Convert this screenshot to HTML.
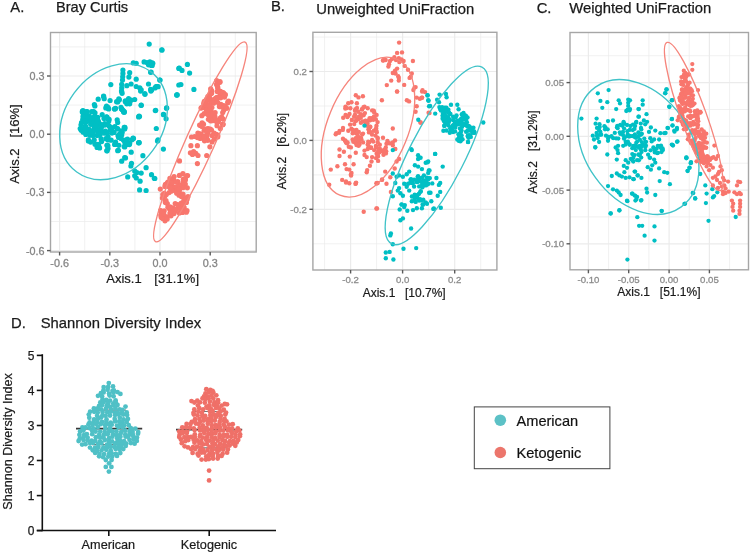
<!DOCTYPE html>
<html><head><meta charset="utf-8"><style>
html,body{margin:0;padding:0;background:#fff;width:750px;height:553px;overflow:hidden}
svg{display:block;font-family:"Liberation Sans",sans-serif;filter:blur(0.5px)}
</style></head><body>
<svg width="750" height="553" viewBox="0 0 750 553">
<line x1="84.7" y1="32.5" x2="84.7" y2="252" stroke="#ebebeb" stroke-width="0.7"/>
<line x1="134.9" y1="32.5" x2="134.9" y2="252" stroke="#ebebeb" stroke-width="0.7"/>
<line x1="185.1" y1="32.5" x2="185.1" y2="252" stroke="#ebebeb" stroke-width="0.7"/>
<line x1="235.3" y1="32.5" x2="235.3" y2="252" stroke="#ebebeb" stroke-width="0.7"/>
<line x1="50.5" y1="46.9" x2="256.2" y2="46.9" stroke="#ebebeb" stroke-width="0.7"/>
<line x1="50.5" y1="105.1" x2="256.2" y2="105.1" stroke="#ebebeb" stroke-width="0.7"/>
<line x1="50.5" y1="163.3" x2="256.2" y2="163.3" stroke="#ebebeb" stroke-width="0.7"/>
<line x1="50.5" y1="221.5" x2="256.2" y2="221.5" stroke="#ebebeb" stroke-width="0.7"/>
<line x1="59.6" y1="32.5" x2="59.6" y2="252" stroke="#ebebeb" stroke-width="1.2"/>
<line x1="109.8" y1="32.5" x2="109.8" y2="252" stroke="#ebebeb" stroke-width="1.2"/>
<line x1="160.0" y1="32.5" x2="160.0" y2="252" stroke="#ebebeb" stroke-width="1.2"/>
<line x1="210.2" y1="32.5" x2="210.2" y2="252" stroke="#ebebeb" stroke-width="1.2"/>
<line x1="50.5" y1="76.0" x2="256.2" y2="76.0" stroke="#ebebeb" stroke-width="1.2"/>
<line x1="50.5" y1="134.2" x2="256.2" y2="134.2" stroke="#ebebeb" stroke-width="1.2"/>
<line x1="50.5" y1="192.4" x2="256.2" y2="192.4" stroke="#ebebeb" stroke-width="1.2"/>
<line x1="50.5" y1="250.6" x2="256.2" y2="250.6" stroke="#ebebeb" stroke-width="1.2"/>
<line x1="324.6" y1="32.3" x2="324.6" y2="270" stroke="#ebebeb" stroke-width="0.7"/>
<line x1="376.6" y1="32.3" x2="376.6" y2="270" stroke="#ebebeb" stroke-width="0.7"/>
<line x1="428.7" y1="32.3" x2="428.7" y2="270" stroke="#ebebeb" stroke-width="0.7"/>
<line x1="480.7" y1="32.3" x2="480.7" y2="270" stroke="#ebebeb" stroke-width="0.7"/>
<line x1="312.9" y1="37.1" x2="496.9" y2="37.1" stroke="#ebebeb" stroke-width="0.7"/>
<line x1="312.9" y1="106.0" x2="496.9" y2="106.0" stroke="#ebebeb" stroke-width="0.7"/>
<line x1="312.9" y1="174.9" x2="496.9" y2="174.9" stroke="#ebebeb" stroke-width="0.7"/>
<line x1="312.9" y1="243.8" x2="496.9" y2="243.8" stroke="#ebebeb" stroke-width="0.7"/>
<line x1="350.6" y1="32.3" x2="350.6" y2="270" stroke="#ebebeb" stroke-width="1.2"/>
<line x1="402.6" y1="32.3" x2="402.6" y2="270" stroke="#ebebeb" stroke-width="1.2"/>
<line x1="454.7" y1="32.3" x2="454.7" y2="270" stroke="#ebebeb" stroke-width="1.2"/>
<line x1="312.9" y1="71.5" x2="496.9" y2="71.5" stroke="#ebebeb" stroke-width="1.2"/>
<line x1="312.9" y1="140.4" x2="496.9" y2="140.4" stroke="#ebebeb" stroke-width="1.2"/>
<line x1="312.9" y1="209.3" x2="496.9" y2="209.3" stroke="#ebebeb" stroke-width="1.2"/>
<line x1="608.6" y1="32.5" x2="608.6" y2="269.8" stroke="#ebebeb" stroke-width="0.7"/>
<line x1="648.9" y1="32.5" x2="648.9" y2="269.8" stroke="#ebebeb" stroke-width="0.7"/>
<line x1="689.2" y1="32.5" x2="689.2" y2="269.8" stroke="#ebebeb" stroke-width="0.7"/>
<line x1="729.6" y1="32.5" x2="729.6" y2="269.8" stroke="#ebebeb" stroke-width="0.7"/>
<line x1="570" y1="55.7" x2="748.5" y2="55.7" stroke="#ebebeb" stroke-width="0.7"/>
<line x1="570" y1="109.5" x2="748.5" y2="109.5" stroke="#ebebeb" stroke-width="0.7"/>
<line x1="570" y1="163.2" x2="748.5" y2="163.2" stroke="#ebebeb" stroke-width="0.7"/>
<line x1="570" y1="216.9" x2="748.5" y2="216.9" stroke="#ebebeb" stroke-width="0.7"/>
<line x1="588.4" y1="32.5" x2="588.4" y2="269.8" stroke="#ebebeb" stroke-width="1.2"/>
<line x1="628.7" y1="32.5" x2="628.7" y2="269.8" stroke="#ebebeb" stroke-width="1.2"/>
<line x1="669.1" y1="32.5" x2="669.1" y2="269.8" stroke="#ebebeb" stroke-width="1.2"/>
<line x1="709.4" y1="32.5" x2="709.4" y2="269.8" stroke="#ebebeb" stroke-width="1.2"/>
<line x1="570" y1="82.6" x2="748.5" y2="82.6" stroke="#ebebeb" stroke-width="1.2"/>
<line x1="570" y1="136.3" x2="748.5" y2="136.3" stroke="#ebebeb" stroke-width="1.2"/>
<line x1="570" y1="190.1" x2="748.5" y2="190.1" stroke="#ebebeb" stroke-width="1.2"/>
<line x1="570" y1="243.8" x2="748.5" y2="243.8" stroke="#ebebeb" stroke-width="1.2"/>
<line x1="76" y1="428.6" x2="142.2" y2="428.6" stroke="#383838" stroke-width="1.7"/>
<line x1="176" y1="429.6" x2="242.2" y2="429.6" stroke="#383838" stroke-width="1.7"/>
<line x1="92" y1="410.2" x2="126" y2="410.2" stroke="#555" stroke-width="1.2" opacity="0.8"/>
<line x1="92" y1="444.6" x2="126" y2="444.6" stroke="#555" stroke-width="1.2" opacity="0.8"/>
<line x1="192" y1="411.5" x2="227" y2="411.5" stroke="#555" stroke-width="1.2" opacity="0.8"/>
<line x1="192" y1="447.8" x2="227" y2="447.8" stroke="#555" stroke-width="1.2" opacity="0.8"/>
<circle cx="149.2" cy="44.1" r="2.6" fill="#00bfc4"/>
<circle cx="161.9" cy="49.9" r="2.6" fill="#00bfc4"/>
<circle cx="133.3" cy="62.9" r="2.6" fill="#00bfc4"/>
<circle cx="136.2" cy="63.3" r="2.6" fill="#00bfc4"/>
<circle cx="144.1" cy="61.9" r="2.6" fill="#00bfc4"/>
<circle cx="147.0" cy="62.6" r="2.6" fill="#00bfc4"/>
<circle cx="149.9" cy="61.9" r="2.6" fill="#00bfc4"/>
<circle cx="152.8" cy="63.3" r="2.6" fill="#00bfc4"/>
<circle cx="151.4" cy="65.5" r="2.6" fill="#00bfc4"/>
<circle cx="148.5" cy="64.8" r="2.6" fill="#00bfc4"/>
<circle cx="150.6" cy="72.3" r="2.6" fill="#00bfc4"/>
<circle cx="160.0" cy="80.0" r="2.6" fill="#00bfc4"/>
<circle cx="122.9" cy="70.1" r="2.6" fill="#00bfc4"/>
<circle cx="122.9" cy="73.4" r="2.6" fill="#00bfc4"/>
<circle cx="122.7" cy="76.8" r="2.6" fill="#00bfc4"/>
<circle cx="122.5" cy="80.0" r="2.6" fill="#00bfc4"/>
<circle cx="121.7" cy="84.3" r="2.6" fill="#00bfc4"/>
<circle cx="121.7" cy="87.9" r="2.6" fill="#00bfc4"/>
<circle cx="121.7" cy="91.5" r="2.6" fill="#00bfc4"/>
<circle cx="129.7" cy="72.7" r="2.6" fill="#00bfc4"/>
<circle cx="128.9" cy="77.1" r="2.6" fill="#00bfc4"/>
<circle cx="136.2" cy="79.2" r="2.6" fill="#00bfc4"/>
<circle cx="110.8" cy="84.6" r="2.6" fill="#00bfc4"/>
<circle cx="126.8" cy="85.7" r="2.6" fill="#00bfc4"/>
<circle cx="131.1" cy="84.0" r="2.6" fill="#00bfc4"/>
<circle cx="136.2" cy="86.5" r="2.6" fill="#00bfc4"/>
<circle cx="139.8" cy="87.9" r="2.6" fill="#00bfc4"/>
<circle cx="141.2" cy="89.8" r="2.6" fill="#00bfc4"/>
<circle cx="148.5" cy="84.0" r="2.6" fill="#00bfc4"/>
<circle cx="150.6" cy="89.4" r="2.6" fill="#00bfc4"/>
<circle cx="155.0" cy="87.9" r="2.6" fill="#00bfc4"/>
<circle cx="157.1" cy="86.5" r="2.6" fill="#00bfc4"/>
<circle cx="144.8" cy="93.7" r="2.6" fill="#00bfc4"/>
<circle cx="176.7" cy="95.1" r="2.6" fill="#00bfc4"/>
<circle cx="178.8" cy="68.4" r="2.6" fill="#00bfc4"/>
<circle cx="178.8" cy="85.0" r="2.6" fill="#00bfc4"/>
<circle cx="103.6" cy="96.6" r="2.6" fill="#00bfc4"/>
<circle cx="110.1" cy="100.5" r="2.6" fill="#00bfc4"/>
<circle cx="118.8" cy="98.8" r="2.6" fill="#00bfc4"/>
<circle cx="116.6" cy="101.7" r="2.6" fill="#00bfc4"/>
<circle cx="125.3" cy="101.7" r="2.6" fill="#00bfc4"/>
<circle cx="128.2" cy="100.2" r="2.6" fill="#00bfc4"/>
<circle cx="131.1" cy="100.2" r="2.6" fill="#00bfc4"/>
<circle cx="134.7" cy="99.5" r="2.6" fill="#00bfc4"/>
<circle cx="126.8" cy="103.8" r="2.6" fill="#00bfc4"/>
<circle cx="129.7" cy="103.8" r="2.6" fill="#00bfc4"/>
<circle cx="141.2" cy="105.3" r="2.6" fill="#00bfc4"/>
<circle cx="155.7" cy="110.3" r="2.6" fill="#00bfc4"/>
<circle cx="166.5" cy="108.2" r="2.6" fill="#00bfc4"/>
<circle cx="106.5" cy="106.0" r="2.6" fill="#00bfc4"/>
<circle cx="108.7" cy="108.9" r="2.6" fill="#00bfc4"/>
<circle cx="114.5" cy="108.9" r="2.6" fill="#00bfc4"/>
<circle cx="121.7" cy="108.9" r="2.6" fill="#00bfc4"/>
<circle cx="123.9" cy="111.8" r="2.6" fill="#00bfc4"/>
<circle cx="139.1" cy="116.1" r="2.6" fill="#00bfc4"/>
<circle cx="163.7" cy="114.7" r="2.6" fill="#00bfc4"/>
<circle cx="102.2" cy="114.7" r="2.6" fill="#00bfc4"/>
<circle cx="106.5" cy="116.8" r="2.6" fill="#00bfc4"/>
<circle cx="98.2" cy="99.2" r="2.6" fill="#00bfc4"/>
<circle cx="103.6" cy="96.0" r="2.6" fill="#00bfc4"/>
<circle cx="104.2" cy="98.7" r="2.6" fill="#00bfc4"/>
<circle cx="94.4" cy="104.6" r="2.6" fill="#00bfc4"/>
<circle cx="108.0" cy="107.4" r="2.6" fill="#00bfc4"/>
<circle cx="105.8" cy="107.9" r="2.6" fill="#00bfc4"/>
<circle cx="115.6" cy="108.4" r="2.6" fill="#00bfc4"/>
<circle cx="117.7" cy="101.9" r="2.6" fill="#00bfc4"/>
<circle cx="119.4" cy="99.8" r="2.6" fill="#00bfc4"/>
<circle cx="121.0" cy="107.4" r="2.6" fill="#00bfc4"/>
<circle cx="123.2" cy="110.6" r="2.6" fill="#00bfc4"/>
<circle cx="124.2" cy="111.7" r="2.6" fill="#00bfc4"/>
<circle cx="125.3" cy="100.8" r="2.6" fill="#00bfc4"/>
<circle cx="127.5" cy="103.0" r="2.6" fill="#00bfc4"/>
<circle cx="128.6" cy="98.7" r="2.6" fill="#00bfc4"/>
<circle cx="121.5" cy="91.1" r="2.6" fill="#00bfc4"/>
<circle cx="122.1" cy="93.3" r="2.6" fill="#00bfc4"/>
<circle cx="83.0" cy="110.6" r="2.6" fill="#00bfc4"/>
<circle cx="86.3" cy="111.7" r="2.6" fill="#00bfc4"/>
<circle cx="91.7" cy="111.7" r="2.6" fill="#00bfc4"/>
<circle cx="95.0" cy="112.8" r="2.6" fill="#00bfc4"/>
<circle cx="106.9" cy="117.1" r="2.6" fill="#00bfc4"/>
<circle cx="109.1" cy="119.3" r="2.6" fill="#00bfc4"/>
<circle cx="117.2" cy="119.8" r="2.6" fill="#00bfc4"/>
<circle cx="117.7" cy="122.5" r="2.6" fill="#00bfc4"/>
<circle cx="124.2" cy="127.4" r="2.6" fill="#00bfc4"/>
<circle cx="88.4" cy="139.9" r="2.6" fill="#00bfc4"/>
<circle cx="90.6" cy="142.1" r="2.6" fill="#00bfc4"/>
<circle cx="95.0" cy="144.2" r="2.6" fill="#00bfc4"/>
<circle cx="97.1" cy="147.5" r="2.6" fill="#00bfc4"/>
<circle cx="106.9" cy="145.3" r="2.6" fill="#00bfc4"/>
<circle cx="108.0" cy="148.6" r="2.6" fill="#00bfc4"/>
<circle cx="115.6" cy="142.1" r="2.6" fill="#00bfc4"/>
<circle cx="118.8" cy="145.3" r="2.6" fill="#00bfc4"/>
<circle cx="124.2" cy="146.4" r="2.6" fill="#00bfc4"/>
<circle cx="126.4" cy="139.9" r="2.6" fill="#00bfc4"/>
<circle cx="140.6" cy="91.1" r="2.6" fill="#00bfc4"/>
<circle cx="145.0" cy="94.3" r="2.6" fill="#00bfc4"/>
<circle cx="150.9" cy="91.1" r="2.6" fill="#00bfc4"/>
<circle cx="141.2" cy="105.2" r="2.6" fill="#00bfc4"/>
<circle cx="122.2" cy="109.5" r="2.6" fill="#00bfc4"/>
<circle cx="124.3" cy="112.2" r="2.6" fill="#00bfc4"/>
<circle cx="139.5" cy="116.6" r="2.6" fill="#00bfc4"/>
<circle cx="155.3" cy="110.6" r="2.6" fill="#00bfc4"/>
<circle cx="166.7" cy="107.9" r="2.6" fill="#00bfc4"/>
<circle cx="163.4" cy="114.4" r="2.6" fill="#00bfc4"/>
<circle cx="166.1" cy="118.8" r="2.6" fill="#00bfc4"/>
<circle cx="177.0" cy="94.9" r="2.6" fill="#00bfc4"/>
<circle cx="124.9" cy="127.4" r="2.6" fill="#00bfc4"/>
<circle cx="156.3" cy="128.5" r="2.6" fill="#00bfc4"/>
<circle cx="139.0" cy="142.6" r="2.6" fill="#00bfc4"/>
<circle cx="158.0" cy="139.9" r="2.6" fill="#00bfc4"/>
<circle cx="163.4" cy="149.1" r="2.6" fill="#00bfc4"/>
<circle cx="101.6" cy="141.6" r="2.6" fill="#00bfc4"/>
<circle cx="107.6" cy="145.4" r="2.6" fill="#00bfc4"/>
<circle cx="107.1" cy="150.8" r="2.6" fill="#00bfc4"/>
<circle cx="118.4" cy="150.3" r="2.6" fill="#00bfc4"/>
<circle cx="139.1" cy="142.7" r="2.6" fill="#00bfc4"/>
<circle cx="142.9" cy="155.7" r="2.6" fill="#00bfc4"/>
<circle cx="121.7" cy="161.2" r="2.6" fill="#00bfc4"/>
<circle cx="125.5" cy="157.9" r="2.6" fill="#00bfc4"/>
<circle cx="131.5" cy="163.3" r="2.6" fill="#00bfc4"/>
<circle cx="130.9" cy="166.0" r="2.6" fill="#00bfc4"/>
<circle cx="146.1" cy="167.7" r="2.6" fill="#00bfc4"/>
<circle cx="134.7" cy="170.9" r="2.6" fill="#00bfc4"/>
<circle cx="136.9" cy="172.5" r="2.6" fill="#00bfc4"/>
<circle cx="141.2" cy="173.1" r="2.6" fill="#00bfc4"/>
<circle cx="134.7" cy="175.8" r="2.6" fill="#00bfc4"/>
<circle cx="136.3" cy="178.0" r="2.6" fill="#00bfc4"/>
<circle cx="140.1" cy="181.2" r="2.6" fill="#00bfc4"/>
<circle cx="127.7" cy="176.9" r="2.6" fill="#00bfc4"/>
<circle cx="151.5" cy="174.7" r="2.6" fill="#00bfc4"/>
<circle cx="154.8" cy="178.5" r="2.6" fill="#00bfc4"/>
<circle cx="139.6" cy="189.9" r="2.6" fill="#00bfc4"/>
<circle cx="146.1" cy="190.5" r="2.6" fill="#00bfc4"/>
<circle cx="157.5" cy="141.1" r="2.6" fill="#00bfc4"/>
<circle cx="161.9" cy="50.0" r="2.6" fill="#00bfc4"/>
<circle cx="152.2" cy="62.8" r="2.6" fill="#00bfc4"/>
<circle cx="152.2" cy="65.5" r="2.6" fill="#00bfc4"/>
<circle cx="151.1" cy="72.0" r="2.6" fill="#00bfc4"/>
<circle cx="159.8" cy="80.1" r="2.6" fill="#00bfc4"/>
<circle cx="179.3" cy="68.2" r="2.6" fill="#00bfc4"/>
<circle cx="182.0" cy="70.4" r="2.6" fill="#00bfc4"/>
<circle cx="187.4" cy="64.4" r="2.6" fill="#00bfc4"/>
<circle cx="189.6" cy="73.1" r="2.6" fill="#00bfc4"/>
<circle cx="180.9" cy="84.5" r="2.6" fill="#00bfc4"/>
<circle cx="193.9" cy="89.4" r="2.6" fill="#00bfc4"/>
<circle cx="177.1" cy="94.8" r="2.6" fill="#00bfc4"/>
<circle cx="156.0" cy="86.7" r="2.6" fill="#00bfc4"/>
<circle cx="158.1" cy="86.7" r="2.6" fill="#00bfc4"/>
<circle cx="151.6" cy="89.9" r="2.6" fill="#00bfc4"/>
<circle cx="154.3" cy="178.3" r="2.6" fill="#00bfc4"/>
<circle cx="97.7" cy="117.3" r="2.6" fill="#00bfc4"/>
<circle cx="109.3" cy="126.2" r="2.6" fill="#00bfc4"/>
<circle cx="83.2" cy="132.2" r="2.6" fill="#00bfc4"/>
<circle cx="82.0" cy="129.1" r="2.6" fill="#00bfc4"/>
<circle cx="83.8" cy="114.8" r="2.6" fill="#00bfc4"/>
<circle cx="86.8" cy="120.3" r="2.6" fill="#00bfc4"/>
<circle cx="111.5" cy="127.5" r="2.6" fill="#00bfc4"/>
<circle cx="87.9" cy="115.9" r="2.6" fill="#00bfc4"/>
<circle cx="96.8" cy="145.0" r="2.6" fill="#00bfc4"/>
<circle cx="89.9" cy="135.3" r="2.6" fill="#00bfc4"/>
<circle cx="114.9" cy="126.5" r="2.6" fill="#00bfc4"/>
<circle cx="83.3" cy="119.6" r="2.6" fill="#00bfc4"/>
<circle cx="117.1" cy="128.8" r="2.6" fill="#00bfc4"/>
<circle cx="97.2" cy="135.4" r="2.6" fill="#00bfc4"/>
<circle cx="104.7" cy="123.5" r="2.6" fill="#00bfc4"/>
<circle cx="123.4" cy="140.1" r="2.6" fill="#00bfc4"/>
<circle cx="93.3" cy="135.0" r="2.6" fill="#00bfc4"/>
<circle cx="88.3" cy="131.4" r="2.6" fill="#00bfc4"/>
<circle cx="121.7" cy="134.9" r="2.6" fill="#00bfc4"/>
<circle cx="118.0" cy="135.8" r="2.6" fill="#00bfc4"/>
<circle cx="111.7" cy="130.0" r="2.6" fill="#00bfc4"/>
<circle cx="105.9" cy="138.7" r="2.6" fill="#00bfc4"/>
<circle cx="101.1" cy="138.9" r="2.6" fill="#00bfc4"/>
<circle cx="81.2" cy="130.3" r="2.6" fill="#00bfc4"/>
<circle cx="89.2" cy="115.9" r="2.6" fill="#00bfc4"/>
<circle cx="87.1" cy="121.3" r="2.6" fill="#00bfc4"/>
<circle cx="84.4" cy="129.7" r="2.6" fill="#00bfc4"/>
<circle cx="124.7" cy="147.0" r="2.6" fill="#00bfc4"/>
<circle cx="95.2" cy="128.3" r="2.6" fill="#00bfc4"/>
<circle cx="99.6" cy="147.9" r="2.6" fill="#00bfc4"/>
<circle cx="89.6" cy="120.7" r="2.6" fill="#00bfc4"/>
<circle cx="92.7" cy="131.2" r="2.6" fill="#00bfc4"/>
<circle cx="80.2" cy="128.5" r="2.6" fill="#00bfc4"/>
<circle cx="100.2" cy="134.6" r="2.6" fill="#00bfc4"/>
<circle cx="132.0" cy="139.8" r="2.6" fill="#00bfc4"/>
<circle cx="108.1" cy="136.8" r="2.6" fill="#00bfc4"/>
<circle cx="129.1" cy="143.5" r="2.6" fill="#00bfc4"/>
<circle cx="127.7" cy="144.3" r="2.6" fill="#00bfc4"/>
<circle cx="101.4" cy="127.6" r="2.6" fill="#00bfc4"/>
<circle cx="83.4" cy="113.8" r="2.6" fill="#00bfc4"/>
<circle cx="91.4" cy="117.8" r="2.6" fill="#00bfc4"/>
<circle cx="85.5" cy="126.2" r="2.6" fill="#00bfc4"/>
<circle cx="93.8" cy="125.5" r="2.6" fill="#00bfc4"/>
<circle cx="105.4" cy="131.2" r="2.6" fill="#00bfc4"/>
<circle cx="84.7" cy="115.3" r="2.6" fill="#00bfc4"/>
<circle cx="98.7" cy="122.0" r="2.6" fill="#00bfc4"/>
<circle cx="127.1" cy="140.0" r="2.6" fill="#00bfc4"/>
<circle cx="94.3" cy="126.3" r="2.6" fill="#00bfc4"/>
<circle cx="98.0" cy="120.3" r="2.6" fill="#00bfc4"/>
<circle cx="126.6" cy="144.6" r="2.6" fill="#00bfc4"/>
<circle cx="124.7" cy="141.9" r="2.6" fill="#00bfc4"/>
<circle cx="92.4" cy="132.6" r="2.6" fill="#00bfc4"/>
<circle cx="81.5" cy="122.7" r="2.6" fill="#00bfc4"/>
<circle cx="94.2" cy="139.9" r="2.6" fill="#00bfc4"/>
<circle cx="131.2" cy="152.2" r="2.6" fill="#00bfc4"/>
<circle cx="92.0" cy="120.5" r="2.6" fill="#00bfc4"/>
<circle cx="90.7" cy="119.5" r="2.6" fill="#00bfc4"/>
<circle cx="115.7" cy="144.3" r="2.6" fill="#00bfc4"/>
<circle cx="129.7" cy="143.6" r="2.6" fill="#00bfc4"/>
<circle cx="121.0" cy="130.9" r="2.6" fill="#00bfc4"/>
<circle cx="98.2" cy="144.4" r="2.6" fill="#00bfc4"/>
<circle cx="86.9" cy="117.3" r="2.6" fill="#00bfc4"/>
<circle cx="129.4" cy="144.6" r="2.6" fill="#00bfc4"/>
<circle cx="133.5" cy="138.4" r="2.6" fill="#00bfc4"/>
<circle cx="99.1" cy="133.9" r="2.6" fill="#00bfc4"/>
<circle cx="87.2" cy="111.6" r="2.6" fill="#00bfc4"/>
<circle cx="133.0" cy="138.1" r="2.6" fill="#00bfc4"/>
<circle cx="93.8" cy="123.2" r="2.6" fill="#00bfc4"/>
<circle cx="93.1" cy="135.5" r="2.6" fill="#00bfc4"/>
<circle cx="94.2" cy="128.5" r="2.6" fill="#00bfc4"/>
<circle cx="99.3" cy="130.1" r="2.6" fill="#00bfc4"/>
<circle cx="107.4" cy="133.2" r="2.6" fill="#00bfc4"/>
<circle cx="104.0" cy="118.6" r="2.6" fill="#00bfc4"/>
<circle cx="89.4" cy="130.7" r="2.6" fill="#00bfc4"/>
<circle cx="119.6" cy="134.2" r="2.6" fill="#00bfc4"/>
<circle cx="97.8" cy="132.6" r="2.6" fill="#00bfc4"/>
<circle cx="85.8" cy="134.4" r="2.6" fill="#00bfc4"/>
<circle cx="93.6" cy="122.5" r="2.6" fill="#00bfc4"/>
<circle cx="122.2" cy="132.2" r="2.6" fill="#00bfc4"/>
<circle cx="113.4" cy="132.1" r="2.6" fill="#00bfc4"/>
<circle cx="108.0" cy="139.9" r="2.6" fill="#00bfc4"/>
<circle cx="104.7" cy="133.2" r="2.6" fill="#00bfc4"/>
<circle cx="86.6" cy="129.4" r="2.6" fill="#00bfc4"/>
<circle cx="84.0" cy="121.0" r="2.6" fill="#00bfc4"/>
<circle cx="88.4" cy="140.9" r="2.6" fill="#00bfc4"/>
<circle cx="101.7" cy="131.3" r="2.6" fill="#00bfc4"/>
<circle cx="88.8" cy="129.0" r="2.6" fill="#00bfc4"/>
<circle cx="108.2" cy="125.1" r="2.6" fill="#00bfc4"/>
<circle cx="90.7" cy="124.3" r="2.6" fill="#00bfc4"/>
<circle cx="110.3" cy="129.4" r="2.6" fill="#00bfc4"/>
<circle cx="81.0" cy="124.8" r="2.6" fill="#00bfc4"/>
<circle cx="114.1" cy="132.4" r="2.6" fill="#00bfc4"/>
<circle cx="85.7" cy="122.1" r="2.6" fill="#00bfc4"/>
<circle cx="94.8" cy="116.4" r="2.6" fill="#00bfc4"/>
<circle cx="111.2" cy="140.2" r="2.6" fill="#00bfc4"/>
<circle cx="84.9" cy="113.4" r="2.6" fill="#00bfc4"/>
<circle cx="117.6" cy="128.7" r="2.6" fill="#00bfc4"/>
<circle cx="114.6" cy="144.4" r="2.6" fill="#00bfc4"/>
<circle cx="104.8" cy="125.1" r="2.6" fill="#00bfc4"/>
<circle cx="94.6" cy="116.4" r="2.6" fill="#00bfc4"/>
<circle cx="108.8" cy="120.9" r="2.6" fill="#00bfc4"/>
<circle cx="86.0" cy="117.7" r="2.6" fill="#00bfc4"/>
<circle cx="82.8" cy="119.4" r="2.6" fill="#00bfc4"/>
<circle cx="97.0" cy="123.7" r="2.6" fill="#00bfc4"/>
<circle cx="107.3" cy="118.4" r="2.6" fill="#00bfc4"/>
<circle cx="93.7" cy="111.6" r="2.6" fill="#00bfc4"/>
<circle cx="120.0" cy="134.0" r="2.6" fill="#00bfc4"/>
<circle cx="90.3" cy="130.8" r="2.6" fill="#00bfc4"/>
<circle cx="124.7" cy="129.0" r="2.6" fill="#00bfc4"/>
<circle cx="101.5" cy="132.1" r="2.6" fill="#00bfc4"/>
<circle cx="98.7" cy="145.7" r="2.6" fill="#00bfc4"/>
<circle cx="118.6" cy="137.5" r="2.6" fill="#00bfc4"/>
<circle cx="102.1" cy="125.5" r="2.6" fill="#00bfc4"/>
<circle cx="83.0" cy="116.4" r="2.6" fill="#00bfc4"/>
<circle cx="94.0" cy="117.8" r="2.6" fill="#00bfc4"/>
<circle cx="127.5" cy="139.0" r="2.6" fill="#00bfc4"/>
<circle cx="95.4" cy="121.1" r="2.6" fill="#00bfc4"/>
<circle cx="96.0" cy="130.2" r="2.6" fill="#00bfc4"/>
<circle cx="88.6" cy="129.6" r="2.6" fill="#00bfc4"/>
<circle cx="96.9" cy="125.9" r="2.6" fill="#00bfc4"/>
<circle cx="105.9" cy="132.0" r="2.6" fill="#00bfc4"/>
<circle cx="91.0" cy="132.0" r="2.6" fill="#00bfc4"/>
<circle cx="84.9" cy="127.7" r="2.6" fill="#00bfc4"/>
<circle cx="82.3" cy="111.9" r="2.6" fill="#00bfc4"/>
<circle cx="96.6" cy="120.7" r="2.6" fill="#00bfc4"/>
<circle cx="112.0" cy="133.1" r="2.6" fill="#00bfc4"/>
<circle cx="121.0" cy="138.4" r="2.6" fill="#00bfc4"/>
<circle cx="101.3" cy="124.6" r="2.6" fill="#00bfc4"/>
<circle cx="82.5" cy="111.0" r="2.6" fill="#00bfc4"/>
<circle cx="94.9" cy="106.0" r="2.6" fill="#00bfc4"/>
<circle cx="107.8" cy="108.0" r="2.6" fill="#00bfc4"/>
<circle cx="114.8" cy="109.0" r="2.6" fill="#00bfc4"/>
<circle cx="121.7" cy="109.0" r="2.6" fill="#00bfc4"/>
<circle cx="123.7" cy="112.0" r="2.6" fill="#00bfc4"/>
<circle cx="124.7" cy="127.9" r="2.6" fill="#00bfc4"/>
<circle cx="138.6" cy="116.9" r="2.6" fill="#00bfc4"/>
<circle cx="107.8" cy="145.8" r="2.6" fill="#00bfc4"/>
<circle cx="106.8" cy="150.7" r="2.6" fill="#00bfc4"/>
<circle cx="117.7" cy="150.7" r="2.6" fill="#00bfc4"/>
<circle cx="124.7" cy="157.7" r="2.6" fill="#00bfc4"/>
<circle cx="138.6" cy="142.8" r="2.6" fill="#00bfc4"/>
<circle cx="220.0" cy="118.3" r="2.6" fill="#f8766d"/>
<circle cx="220.3" cy="128.6" r="2.6" fill="#f8766d"/>
<circle cx="211.5" cy="130.0" r="2.6" fill="#f8766d"/>
<circle cx="214.5" cy="133.5" r="2.6" fill="#f8766d"/>
<circle cx="218.4" cy="121.4" r="2.6" fill="#f8766d"/>
<circle cx="213.6" cy="117.4" r="2.6" fill="#f8766d"/>
<circle cx="216.2" cy="120.6" r="2.6" fill="#f8766d"/>
<circle cx="222.8" cy="124.7" r="2.6" fill="#f8766d"/>
<circle cx="211.4" cy="111.8" r="2.6" fill="#f8766d"/>
<circle cx="217.4" cy="83.3" r="2.6" fill="#f8766d"/>
<circle cx="220.4" cy="94.6" r="2.6" fill="#f8766d"/>
<circle cx="220.2" cy="91.8" r="2.6" fill="#f8766d"/>
<circle cx="211.1" cy="102.5" r="2.6" fill="#f8766d"/>
<circle cx="210.5" cy="120.8" r="2.6" fill="#f8766d"/>
<circle cx="221.6" cy="116.8" r="2.6" fill="#f8766d"/>
<circle cx="216.8" cy="84.0" r="2.6" fill="#f8766d"/>
<circle cx="220.7" cy="97.8" r="2.6" fill="#f8766d"/>
<circle cx="217.9" cy="121.3" r="2.6" fill="#f8766d"/>
<circle cx="218.1" cy="97.0" r="2.6" fill="#f8766d"/>
<circle cx="211.9" cy="107.5" r="2.6" fill="#f8766d"/>
<circle cx="209.3" cy="95.6" r="2.6" fill="#f8766d"/>
<circle cx="200.1" cy="136.7" r="2.6" fill="#f8766d"/>
<circle cx="223.7" cy="110.2" r="2.6" fill="#f8766d"/>
<circle cx="200.9" cy="133.8" r="2.6" fill="#f8766d"/>
<circle cx="209.4" cy="97.6" r="2.6" fill="#f8766d"/>
<circle cx="204.2" cy="130.3" r="2.6" fill="#f8766d"/>
<circle cx="206.4" cy="103.1" r="2.6" fill="#f8766d"/>
<circle cx="205.9" cy="105.3" r="2.6" fill="#f8766d"/>
<circle cx="203.0" cy="136.1" r="2.6" fill="#f8766d"/>
<circle cx="211.7" cy="90.8" r="2.6" fill="#f8766d"/>
<circle cx="206.4" cy="137.3" r="2.6" fill="#f8766d"/>
<circle cx="216.4" cy="134.7" r="2.6" fill="#f8766d"/>
<circle cx="219.8" cy="82.3" r="2.6" fill="#f8766d"/>
<circle cx="220.3" cy="106.7" r="2.6" fill="#f8766d"/>
<circle cx="221.1" cy="118.4" r="2.6" fill="#f8766d"/>
<circle cx="210.2" cy="100.2" r="2.6" fill="#f8766d"/>
<circle cx="203.5" cy="124.2" r="2.6" fill="#f8766d"/>
<circle cx="217.3" cy="97.6" r="2.6" fill="#f8766d"/>
<circle cx="213.5" cy="103.2" r="2.6" fill="#f8766d"/>
<circle cx="200.0" cy="134.3" r="2.6" fill="#f8766d"/>
<circle cx="211.2" cy="92.7" r="2.6" fill="#f8766d"/>
<circle cx="214.0" cy="133.2" r="2.6" fill="#f8766d"/>
<circle cx="220.9" cy="104.4" r="2.6" fill="#f8766d"/>
<circle cx="208.0" cy="111.1" r="2.6" fill="#f8766d"/>
<circle cx="206.5" cy="99.8" r="2.6" fill="#f8766d"/>
<circle cx="211.4" cy="117.5" r="2.6" fill="#f8766d"/>
<circle cx="207.4" cy="106.4" r="2.6" fill="#f8766d"/>
<circle cx="226.6" cy="108.0" r="2.6" fill="#f8766d"/>
<circle cx="207.1" cy="135.6" r="2.6" fill="#f8766d"/>
<circle cx="212.2" cy="120.7" r="2.6" fill="#f8766d"/>
<circle cx="217.0" cy="125.7" r="2.6" fill="#f8766d"/>
<circle cx="209.7" cy="112.8" r="2.6" fill="#f8766d"/>
<circle cx="201.0" cy="135.1" r="2.6" fill="#f8766d"/>
<circle cx="216.9" cy="97.7" r="2.6" fill="#f8766d"/>
<circle cx="216.6" cy="121.7" r="2.6" fill="#f8766d"/>
<circle cx="212.2" cy="114.7" r="2.6" fill="#f8766d"/>
<circle cx="203.6" cy="107.3" r="2.6" fill="#f8766d"/>
<circle cx="226.1" cy="108.2" r="2.6" fill="#f8766d"/>
<circle cx="211.2" cy="120.2" r="2.6" fill="#f8766d"/>
<circle cx="217.8" cy="135.5" r="2.6" fill="#f8766d"/>
<circle cx="205.0" cy="104.8" r="2.6" fill="#f8766d"/>
<circle cx="218.3" cy="91.3" r="2.6" fill="#f8766d"/>
<circle cx="222.8" cy="124.2" r="2.6" fill="#f8766d"/>
<circle cx="211.5" cy="91.8" r="2.6" fill="#f8766d"/>
<circle cx="223.7" cy="93.3" r="2.6" fill="#f8766d"/>
<circle cx="200.5" cy="125.5" r="2.6" fill="#f8766d"/>
<circle cx="203.4" cy="137.1" r="2.6" fill="#f8766d"/>
<circle cx="211.1" cy="90.7" r="2.6" fill="#f8766d"/>
<circle cx="217.7" cy="136.9" r="2.6" fill="#f8766d"/>
<circle cx="200.2" cy="138.4" r="2.6" fill="#f8766d"/>
<circle cx="199.2" cy="136.1" r="2.6" fill="#f8766d"/>
<circle cx="217.6" cy="102.3" r="2.6" fill="#f8766d"/>
<circle cx="206.4" cy="99.4" r="2.6" fill="#f8766d"/>
<circle cx="205.8" cy="129.2" r="2.6" fill="#f8766d"/>
<circle cx="223.7" cy="105.5" r="2.6" fill="#f8766d"/>
<circle cx="206.4" cy="135.1" r="2.6" fill="#f8766d"/>
<circle cx="207.9" cy="128.6" r="2.6" fill="#f8766d"/>
<circle cx="202.1" cy="122.8" r="2.6" fill="#f8766d"/>
<circle cx="201.0" cy="108.1" r="2.6" fill="#f8766d"/>
<circle cx="208.6" cy="109.3" r="2.6" fill="#f8766d"/>
<circle cx="223.0" cy="124.1" r="2.6" fill="#f8766d"/>
<circle cx="215.4" cy="99.2" r="2.6" fill="#f8766d"/>
<circle cx="204.3" cy="101.3" r="2.6" fill="#f8766d"/>
<circle cx="199.6" cy="125.0" r="2.6" fill="#f8766d"/>
<circle cx="204.6" cy="138.8" r="2.6" fill="#f8766d"/>
<circle cx="219.4" cy="106.4" r="2.6" fill="#f8766d"/>
<circle cx="215.9" cy="120.2" r="2.6" fill="#f8766d"/>
<circle cx="217.6" cy="86.7" r="2.6" fill="#f8766d"/>
<circle cx="224.5" cy="97.1" r="2.6" fill="#f8766d"/>
<circle cx="213.9" cy="101.9" r="2.6" fill="#f8766d"/>
<circle cx="220.5" cy="91.4" r="2.6" fill="#f8766d"/>
<circle cx="197.9" cy="133.0" r="2.6" fill="#f8766d"/>
<circle cx="214.3" cy="99.1" r="2.6" fill="#f8766d"/>
<circle cx="207.3" cy="139.5" r="2.6" fill="#f8766d"/>
<circle cx="211.6" cy="93.3" r="2.6" fill="#f8766d"/>
<circle cx="223.2" cy="119.0" r="2.6" fill="#f8766d"/>
<circle cx="210.3" cy="129.0" r="2.6" fill="#f8766d"/>
<circle cx="227.9" cy="101.9" r="2.6" fill="#f8766d"/>
<circle cx="225.4" cy="106.6" r="2.6" fill="#f8766d"/>
<circle cx="202.0" cy="126.5" r="2.6" fill="#f8766d"/>
<circle cx="215.0" cy="116.9" r="2.6" fill="#f8766d"/>
<circle cx="201.8" cy="115.7" r="2.6" fill="#f8766d"/>
<circle cx="217.2" cy="91.6" r="2.6" fill="#f8766d"/>
<circle cx="218.2" cy="90.5" r="2.6" fill="#f8766d"/>
<circle cx="222.7" cy="112.6" r="2.6" fill="#f8766d"/>
<circle cx="207.3" cy="112.7" r="2.6" fill="#f8766d"/>
<circle cx="216.7" cy="84.8" r="2.6" fill="#f8766d"/>
<circle cx="207.8" cy="96.5" r="2.6" fill="#f8766d"/>
<circle cx="203.9" cy="137.2" r="2.6" fill="#f8766d"/>
<circle cx="204.1" cy="113.7" r="2.6" fill="#f8766d"/>
<circle cx="205.8" cy="104.6" r="2.6" fill="#f8766d"/>
<circle cx="220.1" cy="91.7" r="2.6" fill="#f8766d"/>
<circle cx="208.4" cy="129.1" r="2.6" fill="#f8766d"/>
<circle cx="207.7" cy="132.9" r="2.6" fill="#f8766d"/>
<circle cx="216.7" cy="134.5" r="2.6" fill="#f8766d"/>
<circle cx="206.3" cy="109.9" r="2.6" fill="#f8766d"/>
<circle cx="212.1" cy="135.5" r="2.6" fill="#f8766d"/>
<circle cx="227.8" cy="102.8" r="2.6" fill="#f8766d"/>
<circle cx="222.3" cy="92.8" r="2.6" fill="#f8766d"/>
<circle cx="207.6" cy="130.7" r="2.6" fill="#f8766d"/>
<circle cx="212.0" cy="102.6" r="2.6" fill="#f8766d"/>
<circle cx="215.1" cy="112.7" r="2.6" fill="#f8766d"/>
<circle cx="216.2" cy="97.9" r="2.6" fill="#f8766d"/>
<circle cx="208.2" cy="114.7" r="2.6" fill="#f8766d"/>
<circle cx="208.4" cy="119.3" r="2.6" fill="#f8766d"/>
<circle cx="209.2" cy="105.9" r="2.6" fill="#f8766d"/>
<circle cx="210.9" cy="93.6" r="2.6" fill="#f8766d"/>
<circle cx="191.5" cy="137.0" r="2.6" fill="#f8766d"/>
<circle cx="194.7" cy="136.5" r="2.6" fill="#f8766d"/>
<circle cx="197.4" cy="137.6" r="2.6" fill="#f8766d"/>
<circle cx="204.5" cy="140.8" r="2.6" fill="#f8766d"/>
<circle cx="207.7" cy="140.3" r="2.6" fill="#f8766d"/>
<circle cx="212.1" cy="141.9" r="2.6" fill="#f8766d"/>
<circle cx="214.2" cy="139.2" r="2.6" fill="#f8766d"/>
<circle cx="190.9" cy="145.7" r="2.6" fill="#f8766d"/>
<circle cx="197.4" cy="145.7" r="2.6" fill="#f8766d"/>
<circle cx="209.9" cy="146.8" r="2.6" fill="#f8766d"/>
<circle cx="190.4" cy="152.8" r="2.6" fill="#f8766d"/>
<circle cx="193.6" cy="151.7" r="2.6" fill="#f8766d"/>
<circle cx="195.8" cy="153.3" r="2.6" fill="#f8766d"/>
<circle cx="198.0" cy="155.5" r="2.6" fill="#f8766d"/>
<circle cx="192.5" cy="154.4" r="2.6" fill="#f8766d"/>
<circle cx="206.7" cy="155.5" r="2.6" fill="#f8766d"/>
<circle cx="197.4" cy="163.6" r="2.6" fill="#f8766d"/>
<circle cx="179.5" cy="160.9" r="2.6" fill="#f8766d"/>
<circle cx="160.3" cy="189.1" r="2.6" fill="#f8766d"/>
<circle cx="216.7" cy="80.6" r="2.6" fill="#f8766d"/>
<circle cx="220.0" cy="81.7" r="2.6" fill="#f8766d"/>
<circle cx="210.7" cy="88.8" r="2.6" fill="#f8766d"/>
<circle cx="217.8" cy="88.2" r="2.6" fill="#f8766d"/>
<circle cx="223.2" cy="92.5" r="2.6" fill="#f8766d"/>
<circle cx="225.4" cy="94.7" r="2.6" fill="#f8766d"/>
<circle cx="228.6" cy="101.2" r="2.6" fill="#f8766d"/>
<circle cx="203.7" cy="103.4" r="2.6" fill="#f8766d"/>
<circle cx="201.5" cy="107.7" r="2.6" fill="#f8766d"/>
<circle cx="183.5" cy="210.6" r="2.6" fill="#f8766d"/>
<circle cx="173.6" cy="180.3" r="2.6" fill="#f8766d"/>
<circle cx="174.1" cy="176.6" r="2.6" fill="#f8766d"/>
<circle cx="179.4" cy="175.4" r="2.6" fill="#f8766d"/>
<circle cx="182.5" cy="210.5" r="2.6" fill="#f8766d"/>
<circle cx="175.1" cy="190.3" r="2.6" fill="#f8766d"/>
<circle cx="182.5" cy="212.4" r="2.6" fill="#f8766d"/>
<circle cx="165.0" cy="220.8" r="2.6" fill="#f8766d"/>
<circle cx="183.3" cy="179.2" r="2.6" fill="#f8766d"/>
<circle cx="185.2" cy="178.5" r="2.6" fill="#f8766d"/>
<circle cx="165.5" cy="184.5" r="2.6" fill="#f8766d"/>
<circle cx="175.1" cy="187.3" r="2.6" fill="#f8766d"/>
<circle cx="163.9" cy="218.5" r="2.6" fill="#f8766d"/>
<circle cx="164.2" cy="210.8" r="2.6" fill="#f8766d"/>
<circle cx="162.4" cy="198.0" r="2.6" fill="#f8766d"/>
<circle cx="179.4" cy="189.4" r="2.6" fill="#f8766d"/>
<circle cx="187.1" cy="199.2" r="2.6" fill="#f8766d"/>
<circle cx="179.2" cy="191.1" r="2.6" fill="#f8766d"/>
<circle cx="184.6" cy="184.6" r="2.6" fill="#f8766d"/>
<circle cx="170.4" cy="209.8" r="2.6" fill="#f8766d"/>
<circle cx="173.1" cy="180.1" r="2.6" fill="#f8766d"/>
<circle cx="182.9" cy="173.6" r="2.6" fill="#f8766d"/>
<circle cx="185.3" cy="184.0" r="2.6" fill="#f8766d"/>
<circle cx="177.7" cy="204.7" r="2.6" fill="#f8766d"/>
<circle cx="178.7" cy="193.0" r="2.6" fill="#f8766d"/>
<circle cx="166.0" cy="200.7" r="2.6" fill="#f8766d"/>
<circle cx="177.8" cy="181.5" r="2.6" fill="#f8766d"/>
<circle cx="179.0" cy="195.2" r="2.6" fill="#f8766d"/>
<circle cx="163.1" cy="218.5" r="2.6" fill="#f8766d"/>
<circle cx="187.0" cy="210.7" r="2.6" fill="#f8766d"/>
<circle cx="171.8" cy="184.5" r="2.6" fill="#f8766d"/>
<circle cx="177.0" cy="188.9" r="2.6" fill="#f8766d"/>
<circle cx="179.7" cy="193.6" r="2.6" fill="#f8766d"/>
<circle cx="166.8" cy="216.8" r="2.6" fill="#f8766d"/>
<circle cx="171.9" cy="183.2" r="2.6" fill="#f8766d"/>
<circle cx="160.6" cy="210.5" r="2.6" fill="#f8766d"/>
<circle cx="165.2" cy="201.9" r="2.6" fill="#f8766d"/>
<circle cx="175.2" cy="203.6" r="2.6" fill="#f8766d"/>
<circle cx="185.1" cy="180.0" r="2.6" fill="#f8766d"/>
<circle cx="168.8" cy="186.4" r="2.6" fill="#f8766d"/>
<circle cx="184.1" cy="207.3" r="2.6" fill="#f8766d"/>
<circle cx="182.9" cy="194.7" r="2.6" fill="#f8766d"/>
<circle cx="182.8" cy="194.1" r="2.6" fill="#f8766d"/>
<circle cx="169.6" cy="209.1" r="2.6" fill="#f8766d"/>
<circle cx="181.8" cy="184.6" r="2.6" fill="#f8766d"/>
<circle cx="176.7" cy="193.2" r="2.6" fill="#f8766d"/>
<circle cx="184.3" cy="197.6" r="2.6" fill="#f8766d"/>
<circle cx="167.3" cy="203.6" r="2.6" fill="#f8766d"/>
<circle cx="167.2" cy="183.1" r="2.6" fill="#f8766d"/>
<circle cx="182.9" cy="187.7" r="2.6" fill="#f8766d"/>
<circle cx="187.3" cy="187.8" r="2.6" fill="#f8766d"/>
<circle cx="166.5" cy="217.0" r="2.6" fill="#f8766d"/>
<circle cx="179.2" cy="206.2" r="2.6" fill="#f8766d"/>
<circle cx="174.0" cy="213.6" r="2.6" fill="#f8766d"/>
<circle cx="172.9" cy="207.8" r="2.6" fill="#f8766d"/>
<circle cx="177.2" cy="186.7" r="2.6" fill="#f8766d"/>
<circle cx="165.6" cy="202.6" r="2.6" fill="#f8766d"/>
<circle cx="161.2" cy="217.2" r="2.6" fill="#f8766d"/>
<circle cx="162.2" cy="218.1" r="2.6" fill="#f8766d"/>
<circle cx="169.9" cy="178.4" r="2.6" fill="#f8766d"/>
<circle cx="181.2" cy="203.2" r="2.6" fill="#f8766d"/>
<circle cx="181.4" cy="208.4" r="2.6" fill="#f8766d"/>
<circle cx="170.5" cy="212.5" r="2.6" fill="#f8766d"/>
<circle cx="160.8" cy="215.0" r="2.6" fill="#f8766d"/>
<circle cx="186.3" cy="212.2" r="2.6" fill="#f8766d"/>
<circle cx="179.3" cy="212.9" r="2.6" fill="#f8766d"/>
<circle cx="179.2" cy="185.7" r="2.6" fill="#f8766d"/>
<circle cx="183.3" cy="181.6" r="2.6" fill="#f8766d"/>
<circle cx="169.1" cy="192.6" r="2.6" fill="#f8766d"/>
<circle cx="167.9" cy="207.3" r="2.6" fill="#f8766d"/>
<circle cx="170.7" cy="187.4" r="2.6" fill="#f8766d"/>
<circle cx="186.4" cy="202.4" r="2.6" fill="#f8766d"/>
<circle cx="172.9" cy="210.2" r="2.6" fill="#f8766d"/>
<circle cx="170.0" cy="206.8" r="2.6" fill="#f8766d"/>
<circle cx="176.2" cy="182.1" r="2.6" fill="#f8766d"/>
<circle cx="186.7" cy="175.8" r="2.6" fill="#f8766d"/>
<circle cx="185.3" cy="179.8" r="2.6" fill="#f8766d"/>
<circle cx="174.7" cy="211.4" r="2.6" fill="#f8766d"/>
<circle cx="164.7" cy="196.2" r="2.6" fill="#f8766d"/>
<circle cx="170.0" cy="213.2" r="2.6" fill="#f8766d"/>
<circle cx="167.2" cy="218.9" r="2.6" fill="#f8766d"/>
<circle cx="167.9" cy="182.0" r="2.6" fill="#f8766d"/>
<circle cx="181.4" cy="196.4" r="2.6" fill="#f8766d"/>
<circle cx="161.3" cy="211.0" r="2.6" fill="#f8766d"/>
<circle cx="181.4" cy="210.9" r="2.6" fill="#f8766d"/>
<circle cx="179.1" cy="189.2" r="2.6" fill="#f8766d"/>
<circle cx="171.7" cy="191.1" r="2.6" fill="#f8766d"/>
<circle cx="187.6" cy="175.6" r="2.6" fill="#f8766d"/>
<circle cx="165.4" cy="184.5" r="2.6" fill="#f8766d"/>
<circle cx="188.0" cy="196.5" r="2.6" fill="#f8766d"/>
<circle cx="171.0" cy="215.8" r="2.6" fill="#f8766d"/>
<circle cx="166.3" cy="194.5" r="2.6" fill="#f8766d"/>
<circle cx="176.0" cy="209.3" r="2.6" fill="#f8766d"/>
<circle cx="183.2" cy="203.8" r="2.6" fill="#f8766d"/>
<circle cx="170.0" cy="187.7" r="2.6" fill="#f8766d"/>
<circle cx="163.7" cy="213.8" r="2.6" fill="#f8766d"/>
<circle cx="180.2" cy="208.7" r="2.6" fill="#f8766d"/>
<circle cx="164.2" cy="193.4" r="2.6" fill="#f8766d"/>
<circle cx="183.8" cy="200.4" r="2.6" fill="#f8766d"/>
<circle cx="162.8" cy="194.5" r="2.6" fill="#f8766d"/>
<circle cx="164.9" cy="186.4" r="2.6" fill="#f8766d"/>
<circle cx="399.1" cy="42.6" r="2.2" fill="#f8766d"/>
<circle cx="397.1" cy="52.9" r="2.2" fill="#f8766d"/>
<circle cx="402.0" cy="52.4" r="2.2" fill="#f8766d"/>
<circle cx="383.0" cy="60.5" r="2.2" fill="#f8766d"/>
<circle cx="385.7" cy="60.0" r="2.2" fill="#f8766d"/>
<circle cx="394.4" cy="57.2" r="2.2" fill="#f8766d"/>
<circle cx="396.0" cy="60.0" r="2.2" fill="#f8766d"/>
<circle cx="398.8" cy="58.3" r="2.2" fill="#f8766d"/>
<circle cx="401.5" cy="59.4" r="2.2" fill="#f8766d"/>
<circle cx="403.6" cy="61.0" r="2.2" fill="#f8766d"/>
<circle cx="399.3" cy="62.1" r="2.2" fill="#f8766d"/>
<circle cx="390.0" cy="61.0" r="2.2" fill="#f8766d"/>
<circle cx="392.0" cy="59.0" r="2.2" fill="#f8766d"/>
<circle cx="412.9" cy="61.0" r="2.2" fill="#f8766d"/>
<circle cx="389.0" cy="64.3" r="2.2" fill="#f8766d"/>
<circle cx="388.4" cy="66.5" r="2.2" fill="#f8766d"/>
<circle cx="404.7" cy="65.9" r="2.2" fill="#f8766d"/>
<circle cx="397.1" cy="68.6" r="2.2" fill="#f8766d"/>
<circle cx="395.0" cy="70.8" r="2.2" fill="#f8766d"/>
<circle cx="408.0" cy="69.7" r="2.2" fill="#f8766d"/>
<circle cx="392.8" cy="73.0" r="2.2" fill="#f8766d"/>
<circle cx="395.5" cy="73.5" r="2.2" fill="#f8766d"/>
<circle cx="398.2" cy="76.2" r="2.2" fill="#f8766d"/>
<circle cx="398.8" cy="77.9" r="2.2" fill="#f8766d"/>
<circle cx="411.8" cy="73.5" r="2.2" fill="#f8766d"/>
<circle cx="410.7" cy="76.8" r="2.2" fill="#f8766d"/>
<circle cx="409.6" cy="77.9" r="2.2" fill="#f8766d"/>
<circle cx="391.2" cy="80.6" r="2.2" fill="#f8766d"/>
<circle cx="398.8" cy="80.6" r="2.2" fill="#f8766d"/>
<circle cx="386.8" cy="85.1" r="2.2" fill="#f8766d"/>
<circle cx="404.2" cy="84.9" r="2.2" fill="#f8766d"/>
<circle cx="414.5" cy="87.6" r="2.2" fill="#f8766d"/>
<circle cx="415.6" cy="87.1" r="2.2" fill="#f8766d"/>
<circle cx="397.1" cy="91.4" r="2.2" fill="#f8766d"/>
<circle cx="383.4" cy="60.3" r="2.2" fill="#f8766d"/>
<circle cx="355.8" cy="95.2" r="2.2" fill="#f8766d"/>
<circle cx="358.5" cy="97.4" r="2.2" fill="#f8766d"/>
<circle cx="362.9" cy="96.3" r="2.2" fill="#f8766d"/>
<circle cx="351.5" cy="102.2" r="2.2" fill="#f8766d"/>
<circle cx="348.2" cy="103.3" r="2.2" fill="#f8766d"/>
<circle cx="356.9" cy="103.3" r="2.2" fill="#f8766d"/>
<circle cx="345.5" cy="106.6" r="2.2" fill="#f8766d"/>
<circle cx="364.5" cy="106.6" r="2.2" fill="#f8766d"/>
<circle cx="367.7" cy="108.2" r="2.2" fill="#f8766d"/>
<circle cx="372.1" cy="110.4" r="2.2" fill="#f8766d"/>
<circle cx="374.2" cy="112.5" r="2.2" fill="#f8766d"/>
<circle cx="336.3" cy="133.2" r="2.2" fill="#f8766d"/>
<circle cx="339.5" cy="131.0" r="2.2" fill="#f8766d"/>
<circle cx="335.7" cy="134.3" r="2.2" fill="#f8766d"/>
<circle cx="339.0" cy="132.7" r="2.2" fill="#f8766d"/>
<circle cx="345.5" cy="140.8" r="2.2" fill="#f8766d"/>
<circle cx="346.0" cy="142.5" r="2.2" fill="#f8766d"/>
<circle cx="348.8" cy="146.8" r="2.2" fill="#f8766d"/>
<circle cx="350.9" cy="147.4" r="2.2" fill="#f8766d"/>
<circle cx="339.5" cy="149.5" r="2.2" fill="#f8766d"/>
<circle cx="343.9" cy="151.7" r="2.2" fill="#f8766d"/>
<circle cx="355.8" cy="152.8" r="2.2" fill="#f8766d"/>
<circle cx="339.5" cy="156.0" r="2.2" fill="#f8766d"/>
<circle cx="349.8" cy="156.6" r="2.2" fill="#f8766d"/>
<circle cx="364.5" cy="150.6" r="2.2" fill="#f8766d"/>
<circle cx="367.7" cy="149.0" r="2.2" fill="#f8766d"/>
<circle cx="371.0" cy="147.9" r="2.2" fill="#f8766d"/>
<circle cx="374.2" cy="150.1" r="2.2" fill="#f8766d"/>
<circle cx="364.5" cy="155.0" r="2.2" fill="#f8766d"/>
<circle cx="366.7" cy="157.1" r="2.2" fill="#f8766d"/>
<circle cx="372.1" cy="157.1" r="2.2" fill="#f8766d"/>
<circle cx="371.5" cy="161.5" r="2.2" fill="#f8766d"/>
<circle cx="369.9" cy="165.8" r="2.2" fill="#f8766d"/>
<circle cx="376.4" cy="147.4" r="2.2" fill="#f8766d"/>
<circle cx="378.6" cy="152.8" r="2.2" fill="#f8766d"/>
<circle cx="345.0" cy="164.2" r="2.2" fill="#f8766d"/>
<circle cx="353.6" cy="164.2" r="2.2" fill="#f8766d"/>
<circle cx="337.4" cy="166.3" r="2.2" fill="#f8766d"/>
<circle cx="330.8" cy="169.6" r="2.2" fill="#f8766d"/>
<circle cx="346.6" cy="169.1" r="2.2" fill="#f8766d"/>
<circle cx="349.3" cy="169.6" r="2.2" fill="#f8766d"/>
<circle cx="351.5" cy="172.9" r="2.2" fill="#f8766d"/>
<circle cx="350.9" cy="174.5" r="2.2" fill="#f8766d"/>
<circle cx="367.2" cy="170.1" r="2.2" fill="#f8766d"/>
<circle cx="366.7" cy="172.3" r="2.2" fill="#f8766d"/>
<circle cx="342.2" cy="179.9" r="2.2" fill="#f8766d"/>
<circle cx="346.0" cy="181.5" r="2.2" fill="#f8766d"/>
<circle cx="349.3" cy="183.2" r="2.2" fill="#f8766d"/>
<circle cx="355.8" cy="183.2" r="2.2" fill="#f8766d"/>
<circle cx="329.2" cy="184.8" r="2.2" fill="#f8766d"/>
<circle cx="376.4" cy="183.2" r="2.2" fill="#f8766d"/>
<circle cx="351.1" cy="175.6" r="2.2" fill="#f8766d"/>
<circle cx="346.0" cy="182.6" r="2.2" fill="#f8766d"/>
<circle cx="355.5" cy="183.9" r="2.2" fill="#f8766d"/>
<circle cx="356.1" cy="182.6" r="2.2" fill="#f8766d"/>
<circle cx="377.0" cy="183.2" r="2.2" fill="#f8766d"/>
<circle cx="382.1" cy="179.4" r="2.2" fill="#f8766d"/>
<circle cx="363.7" cy="211.7" r="2.2" fill="#f8766d"/>
<circle cx="376.4" cy="208.5" r="2.2" fill="#f8766d"/>
<circle cx="397.1" cy="91.6" r="2.2" fill="#f8766d"/>
<circle cx="381.9" cy="100.3" r="2.2" fill="#f8766d"/>
<circle cx="406.9" cy="100.3" r="2.2" fill="#f8766d"/>
<circle cx="409.1" cy="101.4" r="2.2" fill="#f8766d"/>
<circle cx="413.4" cy="90.0" r="2.2" fill="#f8766d"/>
<circle cx="422.1" cy="91.6" r="2.2" fill="#f8766d"/>
<circle cx="416.7" cy="97.6" r="2.2" fill="#f8766d"/>
<circle cx="422.1" cy="97.6" r="2.2" fill="#f8766d"/>
<circle cx="419.9" cy="98.7" r="2.2" fill="#f8766d"/>
<circle cx="416.7" cy="106.3" r="2.2" fill="#f8766d"/>
<circle cx="415.6" cy="111.7" r="2.2" fill="#f8766d"/>
<circle cx="420.5" cy="122.5" r="2.2" fill="#f8766d"/>
<circle cx="428.6" cy="112.8" r="2.2" fill="#f8766d"/>
<circle cx="392.8" cy="128.5" r="2.2" fill="#f8766d"/>
<circle cx="376.5" cy="125.8" r="2.2" fill="#f8766d"/>
<circle cx="375.4" cy="135.6" r="2.2" fill="#f8766d"/>
<circle cx="377.6" cy="137.7" r="2.2" fill="#f8766d"/>
<circle cx="383.0" cy="137.7" r="2.2" fill="#f8766d"/>
<circle cx="387.4" cy="141.0" r="2.2" fill="#f8766d"/>
<circle cx="395.0" cy="140.4" r="2.2" fill="#f8766d"/>
<circle cx="389.5" cy="143.2" r="2.2" fill="#f8766d"/>
<circle cx="392.8" cy="145.3" r="2.2" fill="#f8766d"/>
<circle cx="371.1" cy="147.5" r="2.2" fill="#f8766d"/>
<circle cx="379.8" cy="148.6" r="2.2" fill="#f8766d"/>
<circle cx="395.0" cy="149.1" r="2.2" fill="#f8766d"/>
<circle cx="422.5" cy="90.2" r="2.2" fill="#f8766d"/>
<circle cx="425.1" cy="92.1" r="2.2" fill="#f8766d"/>
<circle cx="421.9" cy="97.8" r="2.2" fill="#f8766d"/>
<circle cx="429.5" cy="113.0" r="2.2" fill="#f8766d"/>
<circle cx="420.6" cy="122.5" r="2.2" fill="#f8766d"/>
<circle cx="386.5" cy="143.8" r="2.2" fill="#f8766d"/>
<circle cx="392.8" cy="142.5" r="2.2" fill="#f8766d"/>
<circle cx="395.3" cy="148.9" r="2.2" fill="#f8766d"/>
<circle cx="399.1" cy="159.0" r="2.2" fill="#f8766d"/>
<circle cx="396.6" cy="161.5" r="2.2" fill="#f8766d"/>
<circle cx="394.7" cy="168.5" r="2.2" fill="#f8766d"/>
<circle cx="385.2" cy="171.6" r="2.2" fill="#f8766d"/>
<circle cx="390.3" cy="177.3" r="2.2" fill="#f8766d"/>
<circle cx="377.6" cy="183.0" r="2.2" fill="#f8766d"/>
<circle cx="382.0" cy="179.9" r="2.2" fill="#f8766d"/>
<circle cx="386.5" cy="183.7" r="2.2" fill="#f8766d"/>
<circle cx="390.9" cy="191.9" r="2.2" fill="#f8766d"/>
<circle cx="377.0" cy="208.4" r="2.2" fill="#f8766d"/>
<circle cx="345.6" cy="114.9" r="2.2" fill="#f8766d"/>
<circle cx="350.1" cy="124.6" r="2.2" fill="#f8766d"/>
<circle cx="363.6" cy="115.2" r="2.2" fill="#f8766d"/>
<circle cx="354.1" cy="116.8" r="2.2" fill="#f8766d"/>
<circle cx="385.8" cy="147.5" r="2.2" fill="#f8766d"/>
<circle cx="343.0" cy="127.9" r="2.2" fill="#f8766d"/>
<circle cx="386.2" cy="151.3" r="2.2" fill="#f8766d"/>
<circle cx="373.9" cy="130.8" r="2.2" fill="#f8766d"/>
<circle cx="347.6" cy="142.4" r="2.2" fill="#f8766d"/>
<circle cx="343.2" cy="117.8" r="2.2" fill="#f8766d"/>
<circle cx="357.0" cy="107.9" r="2.2" fill="#f8766d"/>
<circle cx="372.0" cy="134.5" r="2.2" fill="#f8766d"/>
<circle cx="369.0" cy="132.4" r="2.2" fill="#f8766d"/>
<circle cx="344.9" cy="140.4" r="2.2" fill="#f8766d"/>
<circle cx="358.6" cy="119.0" r="2.2" fill="#f8766d"/>
<circle cx="375.9" cy="145.9" r="2.2" fill="#f8766d"/>
<circle cx="379.8" cy="144.7" r="2.2" fill="#f8766d"/>
<circle cx="369.4" cy="131.9" r="2.2" fill="#f8766d"/>
<circle cx="353.3" cy="141.8" r="2.2" fill="#f8766d"/>
<circle cx="342.8" cy="129.9" r="2.2" fill="#f8766d"/>
<circle cx="376.3" cy="146.6" r="2.2" fill="#f8766d"/>
<circle cx="368.9" cy="120.3" r="2.2" fill="#f8766d"/>
<circle cx="358.8" cy="131.9" r="2.2" fill="#f8766d"/>
<circle cx="368.5" cy="129.3" r="2.2" fill="#f8766d"/>
<circle cx="347.0" cy="143.3" r="2.2" fill="#f8766d"/>
<circle cx="376.1" cy="128.2" r="2.2" fill="#f8766d"/>
<circle cx="343.0" cy="138.7" r="2.2" fill="#f8766d"/>
<circle cx="363.1" cy="142.4" r="2.2" fill="#f8766d"/>
<circle cx="355.4" cy="109.2" r="2.2" fill="#f8766d"/>
<circle cx="351.4" cy="128.8" r="2.2" fill="#f8766d"/>
<circle cx="358.6" cy="145.8" r="2.2" fill="#f8766d"/>
<circle cx="355.3" cy="121.1" r="2.2" fill="#f8766d"/>
<circle cx="357.2" cy="118.1" r="2.2" fill="#f8766d"/>
<circle cx="377.7" cy="142.2" r="2.2" fill="#f8766d"/>
<circle cx="361.0" cy="138.0" r="2.2" fill="#f8766d"/>
<circle cx="355.3" cy="142.4" r="2.2" fill="#f8766d"/>
<circle cx="378.1" cy="152.5" r="2.2" fill="#f8766d"/>
<circle cx="360.9" cy="122.8" r="2.2" fill="#f8766d"/>
<circle cx="364.9" cy="113.1" r="2.2" fill="#f8766d"/>
<circle cx="356.4" cy="120.5" r="2.2" fill="#f8766d"/>
<circle cx="358.9" cy="116.6" r="2.2" fill="#f8766d"/>
<circle cx="351.8" cy="120.0" r="2.2" fill="#f8766d"/>
<circle cx="352.8" cy="133.3" r="2.2" fill="#f8766d"/>
<circle cx="359.0" cy="142.3" r="2.2" fill="#f8766d"/>
<circle cx="370.3" cy="126.7" r="2.2" fill="#f8766d"/>
<circle cx="383.5" cy="154.7" r="2.2" fill="#f8766d"/>
<circle cx="382.4" cy="150.7" r="2.2" fill="#f8766d"/>
<circle cx="370.1" cy="120.3" r="2.2" fill="#f8766d"/>
<circle cx="355.0" cy="114.7" r="2.2" fill="#f8766d"/>
<circle cx="382.3" cy="151.1" r="2.2" fill="#f8766d"/>
<circle cx="376.6" cy="153.8" r="2.2" fill="#f8766d"/>
<circle cx="365.2" cy="121.1" r="2.2" fill="#f8766d"/>
<circle cx="349.5" cy="113.9" r="2.2" fill="#f8766d"/>
<circle cx="362.2" cy="109.3" r="2.2" fill="#f8766d"/>
<circle cx="360.9" cy="114.2" r="2.2" fill="#f8766d"/>
<circle cx="362.1" cy="134.4" r="2.2" fill="#f8766d"/>
<circle cx="360.9" cy="138.1" r="2.2" fill="#f8766d"/>
<circle cx="356.4" cy="129.9" r="2.2" fill="#f8766d"/>
<circle cx="369.2" cy="142.3" r="2.2" fill="#f8766d"/>
<circle cx="363.0" cy="133.6" r="2.2" fill="#f8766d"/>
<circle cx="373.2" cy="141.6" r="2.2" fill="#f8766d"/>
<circle cx="355.9" cy="133.0" r="2.2" fill="#f8766d"/>
<circle cx="348.3" cy="130.8" r="2.2" fill="#f8766d"/>
<circle cx="358.7" cy="137.6" r="2.2" fill="#f8766d"/>
<circle cx="362.7" cy="121.5" r="2.2" fill="#f8766d"/>
<circle cx="354.2" cy="124.1" r="2.2" fill="#f8766d"/>
<circle cx="352.7" cy="139.4" r="2.2" fill="#f8766d"/>
<circle cx="368.2" cy="141.7" r="2.2" fill="#f8766d"/>
<circle cx="372.1" cy="140.0" r="2.2" fill="#f8766d"/>
<circle cx="371.4" cy="118.1" r="2.2" fill="#f8766d"/>
<circle cx="370.7" cy="132.1" r="2.2" fill="#f8766d"/>
<circle cx="346.9" cy="108.1" r="2.2" fill="#f8766d"/>
<circle cx="376.0" cy="158.1" r="2.2" fill="#f8766d"/>
<circle cx="370.1" cy="127.0" r="2.2" fill="#f8766d"/>
<circle cx="378.3" cy="150.8" r="2.2" fill="#f8766d"/>
<circle cx="365.5" cy="120.7" r="2.2" fill="#f8766d"/>
<circle cx="352.8" cy="130.0" r="2.2" fill="#f8766d"/>
<circle cx="353.6" cy="130.5" r="2.2" fill="#f8766d"/>
<circle cx="377.7" cy="138.8" r="2.2" fill="#f8766d"/>
<circle cx="358.2" cy="111.8" r="2.2" fill="#f8766d"/>
<circle cx="369.6" cy="118.1" r="2.2" fill="#f8766d"/>
<circle cx="373.2" cy="119.8" r="2.2" fill="#f8766d"/>
<circle cx="373.9" cy="116.7" r="2.2" fill="#f8766d"/>
<circle cx="373.8" cy="110.8" r="2.2" fill="#f8766d"/>
<circle cx="368.8" cy="146.4" r="2.2" fill="#f8766d"/>
<circle cx="361.8" cy="109.4" r="2.2" fill="#f8766d"/>
<circle cx="356.0" cy="138.8" r="2.2" fill="#f8766d"/>
<circle cx="359.5" cy="144.6" r="2.2" fill="#f8766d"/>
<circle cx="355.8" cy="142.8" r="2.2" fill="#f8766d"/>
<circle cx="368.9" cy="129.8" r="2.2" fill="#f8766d"/>
<circle cx="384.3" cy="150.7" r="2.2" fill="#f8766d"/>
<circle cx="365.8" cy="122.7" r="2.2" fill="#f8766d"/>
<circle cx="354.3" cy="140.5" r="2.2" fill="#f8766d"/>
<circle cx="385.9" cy="153.4" r="2.2" fill="#f8766d"/>
<circle cx="367.5" cy="123.6" r="2.2" fill="#f8766d"/>
<circle cx="356.5" cy="145.0" r="2.2" fill="#f8766d"/>
<circle cx="377.6" cy="122.1" r="2.2" fill="#f8766d"/>
<circle cx="358.7" cy="139.4" r="2.2" fill="#f8766d"/>
<circle cx="378.0" cy="156.6" r="2.2" fill="#f8766d"/>
<circle cx="377.8" cy="155.4" r="2.2" fill="#f8766d"/>
<circle cx="366.0" cy="121.6" r="2.2" fill="#f8766d"/>
<circle cx="379.7" cy="152.0" r="2.2" fill="#f8766d"/>
<circle cx="355.0" cy="110.8" r="2.2" fill="#f8766d"/>
<circle cx="367.7" cy="144.6" r="2.2" fill="#f8766d"/>
<circle cx="360.8" cy="117.8" r="2.2" fill="#f8766d"/>
<circle cx="376.8" cy="132.2" r="2.2" fill="#f8766d"/>
<circle cx="375.8" cy="119.3" r="2.2" fill="#f8766d"/>
<circle cx="361.4" cy="139.6" r="2.2" fill="#f8766d"/>
<circle cx="347.3" cy="117.0" r="2.2" fill="#f8766d"/>
<circle cx="355.8" cy="138.2" r="2.2" fill="#f8766d"/>
<circle cx="357.7" cy="135.5" r="2.2" fill="#f8766d"/>
<circle cx="345.3" cy="108.5" r="2.2" fill="#f8766d"/>
<circle cx="376.6" cy="114.9" r="2.2" fill="#f8766d"/>
<circle cx="367.3" cy="125.7" r="2.2" fill="#f8766d"/>
<circle cx="363.5" cy="107.2" r="2.2" fill="#f8766d"/>
<circle cx="365.8" cy="120.9" r="2.2" fill="#f8766d"/>
<circle cx="376.2" cy="130.3" r="2.2" fill="#f8766d"/>
<circle cx="384.4" cy="149.7" r="2.2" fill="#f8766d"/>
<circle cx="378.1" cy="160.9" r="2.2" fill="#f8766d"/>
<circle cx="350.4" cy="108.2" r="2.2" fill="#f8766d"/>
<circle cx="347.8" cy="116.3" r="2.2" fill="#f8766d"/>
<circle cx="364.5" cy="125.6" r="2.2" fill="#00bfc4"/>
<circle cx="427.5" cy="95.4" r="2.2" fill="#00bfc4"/>
<circle cx="428.6" cy="100.8" r="2.2" fill="#00bfc4"/>
<circle cx="429.1" cy="106.3" r="2.2" fill="#00bfc4"/>
<circle cx="418.3" cy="119.8" r="2.2" fill="#00bfc4"/>
<circle cx="411.2" cy="149.1" r="2.2" fill="#00bfc4"/>
<circle cx="427.6" cy="95.3" r="2.2" fill="#00bfc4"/>
<circle cx="428.2" cy="100.3" r="2.2" fill="#00bfc4"/>
<circle cx="430.1" cy="106.0" r="2.2" fill="#00bfc4"/>
<circle cx="439.6" cy="94.6" r="2.2" fill="#00bfc4"/>
<circle cx="445.9" cy="94.0" r="2.2" fill="#00bfc4"/>
<circle cx="446.6" cy="97.2" r="2.2" fill="#00bfc4"/>
<circle cx="437.1" cy="99.7" r="2.2" fill="#00bfc4"/>
<circle cx="439.0" cy="102.2" r="2.2" fill="#00bfc4"/>
<circle cx="435.2" cy="113.6" r="2.2" fill="#00bfc4"/>
<circle cx="451.0" cy="104.7" r="2.2" fill="#00bfc4"/>
<circle cx="457.3" cy="104.7" r="2.2" fill="#00bfc4"/>
<circle cx="458.6" cy="109.2" r="2.2" fill="#00bfc4"/>
<circle cx="443.4" cy="130.7" r="2.2" fill="#00bfc4"/>
<circle cx="483.3" cy="122.5" r="2.2" fill="#00bfc4"/>
<circle cx="460.5" cy="140.8" r="2.2" fill="#00bfc4"/>
<circle cx="468.1" cy="142.1" r="2.2" fill="#00bfc4"/>
<circle cx="392.8" cy="150.1" r="2.2" fill="#00bfc4"/>
<circle cx="411.8" cy="150.1" r="2.2" fill="#00bfc4"/>
<circle cx="435.2" cy="153.9" r="2.2" fill="#00bfc4"/>
<circle cx="418.1" cy="155.2" r="2.2" fill="#00bfc4"/>
<circle cx="420.6" cy="157.7" r="2.2" fill="#00bfc4"/>
<circle cx="418.1" cy="159.0" r="2.2" fill="#00bfc4"/>
<circle cx="425.7" cy="162.8" r="2.2" fill="#00bfc4"/>
<circle cx="428.2" cy="161.5" r="2.2" fill="#00bfc4"/>
<circle cx="414.9" cy="165.3" r="2.2" fill="#00bfc4"/>
<circle cx="418.1" cy="166.6" r="2.2" fill="#00bfc4"/>
<circle cx="421.9" cy="169.1" r="2.2" fill="#00bfc4"/>
<circle cx="429.5" cy="170.4" r="2.2" fill="#00bfc4"/>
<circle cx="428.2" cy="172.9" r="2.2" fill="#00bfc4"/>
<circle cx="409.2" cy="171.6" r="2.2" fill="#00bfc4"/>
<circle cx="406.7" cy="174.2" r="2.2" fill="#00bfc4"/>
<circle cx="402.9" cy="176.7" r="2.2" fill="#00bfc4"/>
<circle cx="392.8" cy="173.5" r="2.2" fill="#00bfc4"/>
<circle cx="396.6" cy="176.7" r="2.2" fill="#00bfc4"/>
<circle cx="399.1" cy="175.4" r="2.2" fill="#00bfc4"/>
<circle cx="395.3" cy="183.0" r="2.2" fill="#00bfc4"/>
<circle cx="404.2" cy="183.7" r="2.2" fill="#00bfc4"/>
<circle cx="406.7" cy="186.8" r="2.2" fill="#00bfc4"/>
<circle cx="409.2" cy="190.6" r="2.2" fill="#00bfc4"/>
<circle cx="399.1" cy="188.1" r="2.2" fill="#00bfc4"/>
<circle cx="397.8" cy="190.6" r="2.2" fill="#00bfc4"/>
<circle cx="400.4" cy="193.2" r="2.2" fill="#00bfc4"/>
<circle cx="402.9" cy="195.7" r="2.2" fill="#00bfc4"/>
<circle cx="392.8" cy="196.3" r="2.2" fill="#00bfc4"/>
<circle cx="401.6" cy="204.6" r="2.2" fill="#00bfc4"/>
<circle cx="404.2" cy="207.1" r="2.2" fill="#00bfc4"/>
<circle cx="460.4" cy="141.3" r="2.2" fill="#00bfc4"/>
<circle cx="468.0" cy="141.9" r="2.2" fill="#00bfc4"/>
<circle cx="435.1" cy="153.9" r="2.2" fill="#00bfc4"/>
<circle cx="442.7" cy="166.6" r="2.2" fill="#00bfc4"/>
<circle cx="427.5" cy="162.2" r="2.2" fill="#00bfc4"/>
<circle cx="428.8" cy="170.4" r="2.2" fill="#00bfc4"/>
<circle cx="436.4" cy="178.0" r="2.2" fill="#00bfc4"/>
<circle cx="440.2" cy="183.0" r="2.2" fill="#00bfc4"/>
<circle cx="438.9" cy="184.9" r="2.2" fill="#00bfc4"/>
<circle cx="440.2" cy="191.9" r="2.2" fill="#00bfc4"/>
<circle cx="437.7" cy="195.7" r="2.2" fill="#00bfc4"/>
<circle cx="433.9" cy="208.4" r="2.2" fill="#00bfc4"/>
<circle cx="440.8" cy="207.7" r="2.2" fill="#00bfc4"/>
<circle cx="401.6" cy="204.4" r="2.2" fill="#00bfc4"/>
<circle cx="404.8" cy="205.1" r="2.2" fill="#00bfc4"/>
<circle cx="399.7" cy="209.5" r="2.2" fill="#00bfc4"/>
<circle cx="407.3" cy="210.8" r="2.2" fill="#00bfc4"/>
<circle cx="413.0" cy="210.1" r="2.2" fill="#00bfc4"/>
<circle cx="416.8" cy="208.2" r="2.2" fill="#00bfc4"/>
<circle cx="421.9" cy="208.2" r="2.2" fill="#00bfc4"/>
<circle cx="411.8" cy="201.3" r="2.2" fill="#00bfc4"/>
<circle cx="414.3" cy="200.6" r="2.2" fill="#00bfc4"/>
<circle cx="425.7" cy="202.5" r="2.2" fill="#00bfc4"/>
<circle cx="427.0" cy="203.8" r="2.2" fill="#00bfc4"/>
<circle cx="433.3" cy="208.9" r="2.2" fill="#00bfc4"/>
<circle cx="400.4" cy="220.3" r="2.2" fill="#00bfc4"/>
<circle cx="402.9" cy="218.4" r="2.2" fill="#00bfc4"/>
<circle cx="411.1" cy="228.5" r="2.2" fill="#00bfc4"/>
<circle cx="390.9" cy="233.5" r="2.2" fill="#00bfc4"/>
<circle cx="390.3" cy="235.4" r="2.2" fill="#00bfc4"/>
<circle cx="392.8" cy="244.3" r="2.2" fill="#00bfc4"/>
<circle cx="403.5" cy="248.7" r="2.2" fill="#00bfc4"/>
<circle cx="416.2" cy="248.1" r="2.2" fill="#00bfc4"/>
<circle cx="385.8" cy="252.5" r="2.2" fill="#00bfc4"/>
<circle cx="389.6" cy="251.9" r="2.2" fill="#00bfc4"/>
<circle cx="385.8" cy="258.2" r="2.2" fill="#00bfc4"/>
<circle cx="393.4" cy="259.5" r="2.2" fill="#00bfc4"/>
<circle cx="442.1" cy="107.2" r="2.2" fill="#00bfc4"/>
<circle cx="459.5" cy="136.2" r="2.2" fill="#00bfc4"/>
<circle cx="460.9" cy="119.5" r="2.2" fill="#00bfc4"/>
<circle cx="448.4" cy="125.4" r="2.2" fill="#00bfc4"/>
<circle cx="462.5" cy="139.3" r="2.2" fill="#00bfc4"/>
<circle cx="463.6" cy="119.3" r="2.2" fill="#00bfc4"/>
<circle cx="448.4" cy="117.9" r="2.2" fill="#00bfc4"/>
<circle cx="467.9" cy="130.5" r="2.2" fill="#00bfc4"/>
<circle cx="441.0" cy="110.5" r="2.2" fill="#00bfc4"/>
<circle cx="463.8" cy="116.0" r="2.2" fill="#00bfc4"/>
<circle cx="460.7" cy="132.2" r="2.2" fill="#00bfc4"/>
<circle cx="442.9" cy="116.9" r="2.2" fill="#00bfc4"/>
<circle cx="448.4" cy="109.8" r="2.2" fill="#00bfc4"/>
<circle cx="447.8" cy="110.5" r="2.2" fill="#00bfc4"/>
<circle cx="470.8" cy="136.9" r="2.2" fill="#00bfc4"/>
<circle cx="444.1" cy="121.2" r="2.2" fill="#00bfc4"/>
<circle cx="469.9" cy="127.6" r="2.2" fill="#00bfc4"/>
<circle cx="455.6" cy="117.4" r="2.2" fill="#00bfc4"/>
<circle cx="465.2" cy="125.0" r="2.2" fill="#00bfc4"/>
<circle cx="448.8" cy="120.0" r="2.2" fill="#00bfc4"/>
<circle cx="444.7" cy="115.0" r="2.2" fill="#00bfc4"/>
<circle cx="445.2" cy="122.8" r="2.2" fill="#00bfc4"/>
<circle cx="463.5" cy="112.9" r="2.2" fill="#00bfc4"/>
<circle cx="456.5" cy="115.5" r="2.2" fill="#00bfc4"/>
<circle cx="448.5" cy="112.5" r="2.2" fill="#00bfc4"/>
<circle cx="442.6" cy="115.6" r="2.2" fill="#00bfc4"/>
<circle cx="465.7" cy="115.8" r="2.2" fill="#00bfc4"/>
<circle cx="445.8" cy="120.8" r="2.2" fill="#00bfc4"/>
<circle cx="441.9" cy="108.5" r="2.2" fill="#00bfc4"/>
<circle cx="461.3" cy="122.9" r="2.2" fill="#00bfc4"/>
<circle cx="449.1" cy="112.7" r="2.2" fill="#00bfc4"/>
<circle cx="461.5" cy="130.5" r="2.2" fill="#00bfc4"/>
<circle cx="468.8" cy="126.0" r="2.2" fill="#00bfc4"/>
<circle cx="446.4" cy="107.7" r="2.2" fill="#00bfc4"/>
<circle cx="465.9" cy="119.8" r="2.2" fill="#00bfc4"/>
<circle cx="469.9" cy="136.0" r="2.2" fill="#00bfc4"/>
<circle cx="452.6" cy="126.5" r="2.2" fill="#00bfc4"/>
<circle cx="455.4" cy="123.7" r="2.2" fill="#00bfc4"/>
<circle cx="469.0" cy="136.0" r="2.2" fill="#00bfc4"/>
<circle cx="450.8" cy="130.6" r="2.2" fill="#00bfc4"/>
<circle cx="453.0" cy="132.0" r="2.2" fill="#00bfc4"/>
<circle cx="457.8" cy="124.2" r="2.2" fill="#00bfc4"/>
<circle cx="445.7" cy="109.0" r="2.2" fill="#00bfc4"/>
<circle cx="440.1" cy="108.8" r="2.2" fill="#00bfc4"/>
<circle cx="460.2" cy="123.9" r="2.2" fill="#00bfc4"/>
<circle cx="470.9" cy="130.8" r="2.2" fill="#00bfc4"/>
<circle cx="440.7" cy="109.8" r="2.2" fill="#00bfc4"/>
<circle cx="457.1" cy="123.1" r="2.2" fill="#00bfc4"/>
<circle cx="460.7" cy="135.9" r="2.2" fill="#00bfc4"/>
<circle cx="444.4" cy="125.7" r="2.2" fill="#00bfc4"/>
<circle cx="453.3" cy="120.3" r="2.2" fill="#00bfc4"/>
<circle cx="467.5" cy="117.4" r="2.2" fill="#00bfc4"/>
<circle cx="447.8" cy="117.3" r="2.2" fill="#00bfc4"/>
<circle cx="468.5" cy="137.7" r="2.2" fill="#00bfc4"/>
<circle cx="468.9" cy="135.4" r="2.2" fill="#00bfc4"/>
<circle cx="448.1" cy="120.3" r="2.2" fill="#00bfc4"/>
<circle cx="462.2" cy="118.3" r="2.2" fill="#00bfc4"/>
<circle cx="454.9" cy="123.3" r="2.2" fill="#00bfc4"/>
<circle cx="474.6" cy="132.9" r="2.2" fill="#00bfc4"/>
<circle cx="473.4" cy="127.8" r="2.2" fill="#00bfc4"/>
<circle cx="468.7" cy="136.7" r="2.2" fill="#00bfc4"/>
<circle cx="462.5" cy="114.8" r="2.2" fill="#00bfc4"/>
<circle cx="463.9" cy="115.1" r="2.2" fill="#00bfc4"/>
<circle cx="458.9" cy="138.1" r="2.2" fill="#00bfc4"/>
<circle cx="461.8" cy="114.3" r="2.2" fill="#00bfc4"/>
<circle cx="458.1" cy="120.8" r="2.2" fill="#00bfc4"/>
<circle cx="450.2" cy="128.3" r="2.2" fill="#00bfc4"/>
<circle cx="448.9" cy="121.9" r="2.2" fill="#00bfc4"/>
<circle cx="443.5" cy="110.1" r="2.2" fill="#00bfc4"/>
<circle cx="449.8" cy="119.8" r="2.2" fill="#00bfc4"/>
<circle cx="449.6" cy="114.0" r="2.2" fill="#00bfc4"/>
<circle cx="469.8" cy="127.0" r="2.2" fill="#00bfc4"/>
<circle cx="459.9" cy="128.4" r="2.2" fill="#00bfc4"/>
<circle cx="446.4" cy="130.5" r="2.2" fill="#00bfc4"/>
<circle cx="455.9" cy="124.8" r="2.2" fill="#00bfc4"/>
<circle cx="461.5" cy="122.0" r="2.2" fill="#00bfc4"/>
<circle cx="450.4" cy="114.0" r="2.2" fill="#00bfc4"/>
<circle cx="447.1" cy="123.5" r="2.2" fill="#00bfc4"/>
<circle cx="453.1" cy="126.1" r="2.2" fill="#00bfc4"/>
<circle cx="459.4" cy="122.8" r="2.2" fill="#00bfc4"/>
<circle cx="449.8" cy="132.7" r="2.2" fill="#00bfc4"/>
<circle cx="444.8" cy="107.8" r="2.2" fill="#00bfc4"/>
<circle cx="455.1" cy="131.4" r="2.2" fill="#00bfc4"/>
<circle cx="443.0" cy="113.4" r="2.2" fill="#00bfc4"/>
<circle cx="474.2" cy="131.5" r="2.2" fill="#00bfc4"/>
<circle cx="444.7" cy="117.3" r="2.2" fill="#00bfc4"/>
<circle cx="451.9" cy="129.3" r="2.2" fill="#00bfc4"/>
<circle cx="461.6" cy="135.5" r="2.2" fill="#00bfc4"/>
<circle cx="466.1" cy="131.7" r="2.2" fill="#00bfc4"/>
<circle cx="466.9" cy="122.2" r="2.2" fill="#00bfc4"/>
<circle cx="467.8" cy="130.5" r="2.2" fill="#00bfc4"/>
<circle cx="467.1" cy="126.1" r="2.2" fill="#00bfc4"/>
<circle cx="457.3" cy="139.5" r="2.2" fill="#00bfc4"/>
<circle cx="460.0" cy="120.2" r="2.2" fill="#00bfc4"/>
<circle cx="467.8" cy="136.3" r="2.2" fill="#00bfc4"/>
<circle cx="461.3" cy="118.8" r="2.2" fill="#00bfc4"/>
<circle cx="455.6" cy="121.6" r="2.2" fill="#00bfc4"/>
<circle cx="465.5" cy="115.8" r="2.2" fill="#00bfc4"/>
<circle cx="453.3" cy="125.1" r="2.2" fill="#00bfc4"/>
<circle cx="453.1" cy="116.8" r="2.2" fill="#00bfc4"/>
<circle cx="467.9" cy="135.5" r="2.2" fill="#00bfc4"/>
<circle cx="457.3" cy="121.1" r="2.2" fill="#00bfc4"/>
<circle cx="445.8" cy="116.2" r="2.2" fill="#00bfc4"/>
<circle cx="444.3" cy="125.8" r="2.2" fill="#00bfc4"/>
<circle cx="470.0" cy="135.1" r="2.2" fill="#00bfc4"/>
<circle cx="439.4" cy="107.1" r="2.2" fill="#00bfc4"/>
<circle cx="459.7" cy="123.0" r="2.2" fill="#00bfc4"/>
<circle cx="472.8" cy="132.8" r="2.2" fill="#00bfc4"/>
<circle cx="458.8" cy="140.7" r="2.2" fill="#00bfc4"/>
<circle cx="458.0" cy="123.7" r="2.2" fill="#00bfc4"/>
<circle cx="464.1" cy="119.2" r="2.2" fill="#00bfc4"/>
<circle cx="452.1" cy="126.5" r="2.2" fill="#00bfc4"/>
<circle cx="463.8" cy="124.0" r="2.2" fill="#00bfc4"/>
<circle cx="442.6" cy="118.7" r="2.2" fill="#00bfc4"/>
<circle cx="453.7" cy="125.3" r="2.2" fill="#00bfc4"/>
<circle cx="460.1" cy="136.5" r="2.2" fill="#00bfc4"/>
<circle cx="455.2" cy="127.5" r="2.2" fill="#00bfc4"/>
<circle cx="458.5" cy="134.3" r="2.2" fill="#00bfc4"/>
<circle cx="445.3" cy="116.7" r="2.2" fill="#00bfc4"/>
<circle cx="471.8" cy="129.8" r="2.2" fill="#00bfc4"/>
<circle cx="444.7" cy="115.7" r="2.2" fill="#00bfc4"/>
<circle cx="457.8" cy="123.3" r="2.2" fill="#00bfc4"/>
<circle cx="445.9" cy="111.9" r="2.2" fill="#00bfc4"/>
<circle cx="462.1" cy="126.8" r="2.2" fill="#00bfc4"/>
<circle cx="423.9" cy="175.5" r="2.2" fill="#00bfc4"/>
<circle cx="418.3" cy="199.1" r="2.2" fill="#00bfc4"/>
<circle cx="415.7" cy="196.0" r="2.2" fill="#00bfc4"/>
<circle cx="408.1" cy="183.8" r="2.2" fill="#00bfc4"/>
<circle cx="429.1" cy="192.7" r="2.2" fill="#00bfc4"/>
<circle cx="424.7" cy="180.4" r="2.2" fill="#00bfc4"/>
<circle cx="420.4" cy="191.7" r="2.2" fill="#00bfc4"/>
<circle cx="414.7" cy="194.6" r="2.2" fill="#00bfc4"/>
<circle cx="422.4" cy="187.2" r="2.2" fill="#00bfc4"/>
<circle cx="411.0" cy="179.2" r="2.2" fill="#00bfc4"/>
<circle cx="427.0" cy="177.6" r="2.2" fill="#00bfc4"/>
<circle cx="410.5" cy="179.6" r="2.2" fill="#00bfc4"/>
<circle cx="421.1" cy="200.2" r="2.2" fill="#00bfc4"/>
<circle cx="423.3" cy="199.7" r="2.2" fill="#00bfc4"/>
<circle cx="427.3" cy="184.4" r="2.2" fill="#00bfc4"/>
<circle cx="425.9" cy="185.4" r="2.2" fill="#00bfc4"/>
<circle cx="412.2" cy="182.6" r="2.2" fill="#00bfc4"/>
<circle cx="422.6" cy="185.2" r="2.2" fill="#00bfc4"/>
<circle cx="419.2" cy="186.4" r="2.2" fill="#00bfc4"/>
<circle cx="422.6" cy="204.5" r="2.2" fill="#00bfc4"/>
<circle cx="419.0" cy="193.8" r="2.2" fill="#00bfc4"/>
<circle cx="431.3" cy="201.2" r="2.2" fill="#00bfc4"/>
<circle cx="428.4" cy="183.8" r="2.2" fill="#00bfc4"/>
<circle cx="423.1" cy="204.5" r="2.2" fill="#00bfc4"/>
<circle cx="414.1" cy="186.5" r="2.2" fill="#00bfc4"/>
<circle cx="426.0" cy="181.2" r="2.2" fill="#00bfc4"/>
<circle cx="415.7" cy="201.9" r="2.2" fill="#00bfc4"/>
<circle cx="420.1" cy="199.3" r="2.2" fill="#00bfc4"/>
<circle cx="414.1" cy="179.7" r="2.2" fill="#00bfc4"/>
<circle cx="417.0" cy="180.1" r="2.2" fill="#00bfc4"/>
<circle cx="432.3" cy="183.4" r="2.2" fill="#00bfc4"/>
<circle cx="422.0" cy="177.8" r="2.2" fill="#00bfc4"/>
<circle cx="421.3" cy="186.4" r="2.2" fill="#00bfc4"/>
<circle cx="418.1" cy="176.3" r="2.2" fill="#00bfc4"/>
<circle cx="416.8" cy="181.9" r="2.2" fill="#00bfc4"/>
<circle cx="412.8" cy="183.2" r="2.2" fill="#00bfc4"/>
<circle cx="424.6" cy="185.0" r="2.2" fill="#00bfc4"/>
<circle cx="411.9" cy="196.5" r="2.2" fill="#00bfc4"/>
<circle cx="410.3" cy="182.7" r="2.2" fill="#00bfc4"/>
<circle cx="428.9" cy="178.2" r="2.2" fill="#00bfc4"/>
<circle cx="419.1" cy="200.6" r="2.2" fill="#00bfc4"/>
<circle cx="428.1" cy="179.2" r="2.2" fill="#00bfc4"/>
<circle cx="416.8" cy="197.0" r="2.2" fill="#00bfc4"/>
<circle cx="420.6" cy="181.4" r="2.2" fill="#00bfc4"/>
<circle cx="419.3" cy="178.3" r="2.2" fill="#00bfc4"/>
<circle cx="425.7" cy="182.4" r="2.2" fill="#00bfc4"/>
<circle cx="430.5" cy="192.8" r="2.2" fill="#00bfc4"/>
<circle cx="417.2" cy="182.0" r="2.2" fill="#00bfc4"/>
<circle cx="423.2" cy="180.9" r="2.2" fill="#00bfc4"/>
<circle cx="429.8" cy="178.1" r="2.2" fill="#00bfc4"/>
<circle cx="420.8" cy="191.3" r="2.2" fill="#00bfc4"/>
<circle cx="414.8" cy="198.6" r="2.2" fill="#00bfc4"/>
<circle cx="417.6" cy="195.0" r="2.2" fill="#00bfc4"/>
<circle cx="422.2" cy="184.0" r="2.2" fill="#00bfc4"/>
<circle cx="417.7" cy="176.9" r="2.2" fill="#00bfc4"/>
<circle cx="608.6" cy="90.1" r="2.15" fill="#00bfc4"/>
<circle cx="597.8" cy="93.3" r="2.15" fill="#00bfc4"/>
<circle cx="600.4" cy="100.9" r="2.15" fill="#00bfc4"/>
<circle cx="607.3" cy="102.2" r="2.15" fill="#00bfc4"/>
<circle cx="602.3" cy="107.8" r="2.15" fill="#00bfc4"/>
<circle cx="618.7" cy="100.3" r="2.15" fill="#00bfc4"/>
<circle cx="620.0" cy="103.4" r="2.15" fill="#00bfc4"/>
<circle cx="616.2" cy="109.1" r="2.15" fill="#00bfc4"/>
<circle cx="628.2" cy="99.6" r="2.15" fill="#00bfc4"/>
<circle cx="628.2" cy="102.8" r="2.15" fill="#00bfc4"/>
<circle cx="628.2" cy="105.9" r="2.15" fill="#00bfc4"/>
<circle cx="627.6" cy="109.7" r="2.15" fill="#00bfc4"/>
<circle cx="626.3" cy="111.0" r="2.15" fill="#00bfc4"/>
<circle cx="629.5" cy="110.4" r="2.15" fill="#00bfc4"/>
<circle cx="638.4" cy="109.1" r="2.15" fill="#00bfc4"/>
<circle cx="638.4" cy="116.7" r="2.15" fill="#00bfc4"/>
<circle cx="581.4" cy="118.6" r="2.15" fill="#00bfc4"/>
<circle cx="596.6" cy="118.6" r="2.15" fill="#00bfc4"/>
<circle cx="608.0" cy="121.1" r="2.15" fill="#00bfc4"/>
<circle cx="613.0" cy="120.5" r="2.15" fill="#00bfc4"/>
<circle cx="592.8" cy="135.7" r="2.15" fill="#00bfc4"/>
<circle cx="594.0" cy="139.5" r="2.15" fill="#00bfc4"/>
<circle cx="599.1" cy="142.0" r="2.15" fill="#00bfc4"/>
<circle cx="595.3" cy="147.1" r="2.15" fill="#00bfc4"/>
<circle cx="608.0" cy="140.8" r="2.15" fill="#00bfc4"/>
<circle cx="618.1" cy="145.8" r="2.15" fill="#00bfc4"/>
<circle cx="623.2" cy="145.8" r="2.15" fill="#00bfc4"/>
<circle cx="633.3" cy="145.8" r="2.15" fill="#00bfc4"/>
<circle cx="666.7" cy="89.5" r="2.15" fill="#00bfc4"/>
<circle cx="665.4" cy="93.3" r="2.15" fill="#00bfc4"/>
<circle cx="671.8" cy="100.3" r="2.15" fill="#00bfc4"/>
<circle cx="669.2" cy="106.6" r="2.15" fill="#00bfc4"/>
<circle cx="630.0" cy="100.3" r="2.15" fill="#00bfc4"/>
<circle cx="630.0" cy="109.1" r="2.15" fill="#00bfc4"/>
<circle cx="642.7" cy="100.3" r="2.15" fill="#00bfc4"/>
<circle cx="642.7" cy="104.7" r="2.15" fill="#00bfc4"/>
<circle cx="638.9" cy="109.1" r="2.15" fill="#00bfc4"/>
<circle cx="646.5" cy="114.2" r="2.15" fill="#00bfc4"/>
<circle cx="638.9" cy="116.7" r="2.15" fill="#00bfc4"/>
<circle cx="643.9" cy="120.5" r="2.15" fill="#00bfc4"/>
<circle cx="647.1" cy="121.8" r="2.15" fill="#00bfc4"/>
<circle cx="645.2" cy="124.3" r="2.15" fill="#00bfc4"/>
<circle cx="671.8" cy="119.2" r="2.15" fill="#00bfc4"/>
<circle cx="650.9" cy="127.5" r="2.15" fill="#00bfc4"/>
<circle cx="649.0" cy="131.9" r="2.15" fill="#00bfc4"/>
<circle cx="655.3" cy="130.6" r="2.15" fill="#00bfc4"/>
<circle cx="660.4" cy="133.2" r="2.15" fill="#00bfc4"/>
<circle cx="664.2" cy="133.2" r="2.15" fill="#00bfc4"/>
<circle cx="668.0" cy="128.1" r="2.15" fill="#00bfc4"/>
<circle cx="672.4" cy="125.6" r="2.15" fill="#00bfc4"/>
<circle cx="674.3" cy="130.6" r="2.15" fill="#00bfc4"/>
<circle cx="676.8" cy="129.4" r="2.15" fill="#00bfc4"/>
<circle cx="650.3" cy="138.2" r="2.15" fill="#00bfc4"/>
<circle cx="654.1" cy="139.5" r="2.15" fill="#00bfc4"/>
<circle cx="659.1" cy="139.5" r="2.15" fill="#00bfc4"/>
<circle cx="645.2" cy="142.0" r="2.15" fill="#00bfc4"/>
<circle cx="671.8" cy="144.6" r="2.15" fill="#00bfc4"/>
<circle cx="677.5" cy="141.4" r="2.15" fill="#00bfc4"/>
<circle cx="635.1" cy="145.8" r="2.15" fill="#00bfc4"/>
<circle cx="638.9" cy="147.1" r="2.15" fill="#00bfc4"/>
<circle cx="642.7" cy="144.6" r="2.15" fill="#00bfc4"/>
<circle cx="661.6" cy="148.4" r="2.15" fill="#00bfc4"/>
<circle cx="657.8" cy="145.8" r="2.15" fill="#00bfc4"/>
<circle cx="595.3" cy="147.5" r="2.15" fill="#00bfc4"/>
<circle cx="607.3" cy="154.5" r="2.15" fill="#00bfc4"/>
<circle cx="615.6" cy="147.5" r="2.15" fill="#00bfc4"/>
<circle cx="617.5" cy="150.1" r="2.15" fill="#00bfc4"/>
<circle cx="618.1" cy="153.2" r="2.15" fill="#00bfc4"/>
<circle cx="616.8" cy="159.6" r="2.15" fill="#00bfc4"/>
<circle cx="625.7" cy="160.2" r="2.15" fill="#00bfc4"/>
<circle cx="630.8" cy="158.9" r="2.15" fill="#00bfc4"/>
<circle cx="633.3" cy="157.7" r="2.15" fill="#00bfc4"/>
<circle cx="637.1" cy="160.2" r="2.15" fill="#00bfc4"/>
<circle cx="639.0" cy="155.1" r="2.15" fill="#00bfc4"/>
<circle cx="635.8" cy="150.1" r="2.15" fill="#00bfc4"/>
<circle cx="634.6" cy="147.5" r="2.15" fill="#00bfc4"/>
<circle cx="639.0" cy="147.5" r="2.15" fill="#00bfc4"/>
<circle cx="628.2" cy="162.7" r="2.15" fill="#00bfc4"/>
<circle cx="633.3" cy="161.5" r="2.15" fill="#00bfc4"/>
<circle cx="623.8" cy="165.9" r="2.15" fill="#00bfc4"/>
<circle cx="627.0" cy="167.8" r="2.15" fill="#00bfc4"/>
<circle cx="624.4" cy="172.2" r="2.15" fill="#00bfc4"/>
<circle cx="634.6" cy="171.6" r="2.15" fill="#00bfc4"/>
<circle cx="611.8" cy="176.0" r="2.15" fill="#00bfc4"/>
<circle cx="616.8" cy="173.5" r="2.15" fill="#00bfc4"/>
<circle cx="619.4" cy="175.4" r="2.15" fill="#00bfc4"/>
<circle cx="621.9" cy="176.6" r="2.15" fill="#00bfc4"/>
<circle cx="625.7" cy="177.9" r="2.15" fill="#00bfc4"/>
<circle cx="629.5" cy="177.3" r="2.15" fill="#00bfc4"/>
<circle cx="633.3" cy="179.2" r="2.15" fill="#00bfc4"/>
<circle cx="637.7" cy="175.4" r="2.15" fill="#00bfc4"/>
<circle cx="608.0" cy="186.1" r="2.15" fill="#00bfc4"/>
<circle cx="613.0" cy="189.3" r="2.15" fill="#00bfc4"/>
<circle cx="616.8" cy="190.6" r="2.15" fill="#00bfc4"/>
<circle cx="618.7" cy="192.5" r="2.15" fill="#00bfc4"/>
<circle cx="620.6" cy="195.0" r="2.15" fill="#00bfc4"/>
<circle cx="632.0" cy="193.7" r="2.15" fill="#00bfc4"/>
<circle cx="634.6" cy="195.6" r="2.15" fill="#00bfc4"/>
<circle cx="637.1" cy="196.9" r="2.15" fill="#00bfc4"/>
<circle cx="627.0" cy="200.7" r="2.15" fill="#00bfc4"/>
<circle cx="619.4" cy="210.2" r="2.15" fill="#00bfc4"/>
<circle cx="610.5" cy="213.4" r="2.15" fill="#00bfc4"/>
<circle cx="656.6" cy="148.8" r="2.15" fill="#00bfc4"/>
<circle cx="660.4" cy="147.5" r="2.15" fill="#00bfc4"/>
<circle cx="662.9" cy="150.1" r="2.15" fill="#00bfc4"/>
<circle cx="657.2" cy="153.2" r="2.15" fill="#00bfc4"/>
<circle cx="673.0" cy="145.6" r="2.15" fill="#00bfc4"/>
<circle cx="649.6" cy="157.7" r="2.15" fill="#00bfc4"/>
<circle cx="654.1" cy="159.6" r="2.15" fill="#00bfc4"/>
<circle cx="655.3" cy="162.7" r="2.15" fill="#00bfc4"/>
<circle cx="652.2" cy="165.3" r="2.15" fill="#00bfc4"/>
<circle cx="647.7" cy="167.2" r="2.15" fill="#00bfc4"/>
<circle cx="650.9" cy="169.7" r="2.15" fill="#00bfc4"/>
<circle cx="659.1" cy="168.4" r="2.15" fill="#00bfc4"/>
<circle cx="664.2" cy="172.2" r="2.15" fill="#00bfc4"/>
<circle cx="667.3" cy="172.8" r="2.15" fill="#00bfc4"/>
<circle cx="635.1" cy="171.6" r="2.15" fill="#00bfc4"/>
<circle cx="637.6" cy="175.4" r="2.15" fill="#00bfc4"/>
<circle cx="641.4" cy="177.9" r="2.15" fill="#00bfc4"/>
<circle cx="633.8" cy="179.2" r="2.15" fill="#00bfc4"/>
<circle cx="659.7" cy="181.1" r="2.15" fill="#00bfc4"/>
<circle cx="669.9" cy="184.2" r="2.15" fill="#00bfc4"/>
<circle cx="686.3" cy="158.3" r="2.15" fill="#00bfc4"/>
<circle cx="690.8" cy="162.7" r="2.15" fill="#00bfc4"/>
<circle cx="689.5" cy="167.8" r="2.15" fill="#00bfc4"/>
<circle cx="687.6" cy="171.0" r="2.15" fill="#00bfc4"/>
<circle cx="646.5" cy="188.7" r="2.15" fill="#00bfc4"/>
<circle cx="647.1" cy="192.5" r="2.15" fill="#00bfc4"/>
<circle cx="655.3" cy="195.0" r="2.15" fill="#00bfc4"/>
<circle cx="632.5" cy="193.7" r="2.15" fill="#00bfc4"/>
<circle cx="635.1" cy="195.6" r="2.15" fill="#00bfc4"/>
<circle cx="636.3" cy="199.4" r="2.15" fill="#00bfc4"/>
<circle cx="641.4" cy="200.1" r="2.15" fill="#00bfc4"/>
<circle cx="693.3" cy="193.1" r="2.15" fill="#00bfc4"/>
<circle cx="695.2" cy="198.2" r="2.15" fill="#00bfc4"/>
<circle cx="684.4" cy="203.9" r="2.15" fill="#00bfc4"/>
<circle cx="661.6" cy="210.8" r="2.15" fill="#00bfc4"/>
<circle cx="627.4" cy="201.2" r="2.15" fill="#00bfc4"/>
<circle cx="635.4" cy="200.6" r="2.15" fill="#00bfc4"/>
<circle cx="641.0" cy="200.6" r="2.15" fill="#00bfc4"/>
<circle cx="610.8" cy="213.5" r="2.15" fill="#00bfc4"/>
<circle cx="619.4" cy="210.5" r="2.15" fill="#00bfc4"/>
<circle cx="637.3" cy="217.2" r="2.15" fill="#00bfc4"/>
<circle cx="639.1" cy="225.8" r="2.15" fill="#00bfc4"/>
<circle cx="642.2" cy="225.8" r="2.15" fill="#00bfc4"/>
<circle cx="654.5" cy="226.4" r="2.15" fill="#00bfc4"/>
<circle cx="644.6" cy="235.7" r="2.15" fill="#00bfc4"/>
<circle cx="654.5" cy="240.6" r="2.15" fill="#00bfc4"/>
<circle cx="627.4" cy="259.6" r="2.15" fill="#00bfc4"/>
<circle cx="661.8" cy="211.1" r="2.15" fill="#00bfc4"/>
<circle cx="666.3" cy="89.4" r="2.15" fill="#00bfc4"/>
<circle cx="665.1" cy="93.2" r="2.15" fill="#00bfc4"/>
<circle cx="672.0" cy="100.2" r="2.15" fill="#00bfc4"/>
<circle cx="672.6" cy="100.1" r="2.15" fill="#00bfc4"/>
<circle cx="669.4" cy="107.0" r="2.15" fill="#00bfc4"/>
<circle cx="672.0" cy="119.0" r="2.15" fill="#00bfc4"/>
<circle cx="672.6" cy="125.4" r="2.15" fill="#00bfc4"/>
<circle cx="667.5" cy="127.9" r="2.15" fill="#00bfc4"/>
<circle cx="677.0" cy="127.9" r="2.15" fill="#00bfc4"/>
<circle cx="674.5" cy="131.7" r="2.15" fill="#00bfc4"/>
<circle cx="665.6" cy="133.0" r="2.15" fill="#00bfc4"/>
<circle cx="677.0" cy="141.8" r="2.15" fill="#00bfc4"/>
<circle cx="672.6" cy="145.0" r="2.15" fill="#00bfc4"/>
<circle cx="686.5" cy="157.7" r="2.15" fill="#00bfc4"/>
<circle cx="691.0" cy="162.1" r="2.15" fill="#00bfc4"/>
<circle cx="698.5" cy="154.5" r="2.15" fill="#00bfc4"/>
<circle cx="699.2" cy="158.3" r="2.15" fill="#00bfc4"/>
<circle cx="686.3" cy="157.5" r="2.15" fill="#00bfc4"/>
<circle cx="690.8" cy="163.2" r="2.15" fill="#00bfc4"/>
<circle cx="689.5" cy="167.7" r="2.15" fill="#00bfc4"/>
<circle cx="687.6" cy="170.8" r="2.15" fill="#00bfc4"/>
<circle cx="700.3" cy="174.0" r="2.15" fill="#00bfc4"/>
<circle cx="705.3" cy="185.4" r="2.15" fill="#00bfc4"/>
<circle cx="692.7" cy="193.0" r="2.15" fill="#00bfc4"/>
<circle cx="695.2" cy="198.7" r="2.15" fill="#00bfc4"/>
<circle cx="706.6" cy="193.6" r="2.15" fill="#00bfc4"/>
<circle cx="712.3" cy="189.2" r="2.15" fill="#00bfc4"/>
<circle cx="717.3" cy="192.3" r="2.15" fill="#00bfc4"/>
<circle cx="714.2" cy="196.1" r="2.15" fill="#00bfc4"/>
<circle cx="712.9" cy="197.4" r="2.15" fill="#00bfc4"/>
<circle cx="705.9" cy="203.1" r="2.15" fill="#00bfc4"/>
<circle cx="685.1" cy="203.7" r="2.15" fill="#00bfc4"/>
<circle cx="735.7" cy="217.0" r="2.15" fill="#00bfc4"/>
<circle cx="708.5" cy="220.8" r="2.15" fill="#00bfc4"/>
<circle cx="597.7" cy="138.1" r="2.15" fill="#00bfc4"/>
<circle cx="599.8" cy="134.8" r="2.15" fill="#00bfc4"/>
<circle cx="596.6" cy="133.0" r="2.15" fill="#00bfc4"/>
<circle cx="600.4" cy="131.9" r="2.15" fill="#00bfc4"/>
<circle cx="599.5" cy="124.2" r="2.15" fill="#00bfc4"/>
<circle cx="599.7" cy="127.0" r="2.15" fill="#00bfc4"/>
<circle cx="596.9" cy="135.8" r="2.15" fill="#00bfc4"/>
<circle cx="599.2" cy="130.2" r="2.15" fill="#00bfc4"/>
<circle cx="608.6" cy="136.8" r="2.15" fill="#00bfc4"/>
<circle cx="608.2" cy="138.3" r="2.15" fill="#00bfc4"/>
<circle cx="597.0" cy="127.9" r="2.15" fill="#00bfc4"/>
<circle cx="605.0" cy="129.3" r="2.15" fill="#00bfc4"/>
<circle cx="601.2" cy="134.7" r="2.15" fill="#00bfc4"/>
<circle cx="605.5" cy="127.4" r="2.15" fill="#00bfc4"/>
<circle cx="607.7" cy="129.3" r="2.15" fill="#00bfc4"/>
<circle cx="604.4" cy="126.2" r="2.15" fill="#00bfc4"/>
<circle cx="606.0" cy="135.7" r="2.15" fill="#00bfc4"/>
<circle cx="595.6" cy="123.7" r="2.15" fill="#00bfc4"/>
<circle cx="620.3" cy="125.0" r="2.15" fill="#00bfc4"/>
<circle cx="624.1" cy="128.6" r="2.15" fill="#00bfc4"/>
<circle cx="617.0" cy="127.2" r="2.15" fill="#00bfc4"/>
<circle cx="633.0" cy="124.6" r="2.15" fill="#00bfc4"/>
<circle cx="638.4" cy="132.4" r="2.15" fill="#00bfc4"/>
<circle cx="635.1" cy="126.1" r="2.15" fill="#00bfc4"/>
<circle cx="627.6" cy="134.7" r="2.15" fill="#00bfc4"/>
<circle cx="638.3" cy="136.5" r="2.15" fill="#00bfc4"/>
<circle cx="623.6" cy="121.9" r="2.15" fill="#00bfc4"/>
<circle cx="638.8" cy="133.1" r="2.15" fill="#00bfc4"/>
<circle cx="617.3" cy="125.9" r="2.15" fill="#00bfc4"/>
<circle cx="636.0" cy="122.7" r="2.15" fill="#00bfc4"/>
<circle cx="634.5" cy="128.9" r="2.15" fill="#00bfc4"/>
<circle cx="636.0" cy="137.6" r="2.15" fill="#00bfc4"/>
<circle cx="623.5" cy="122.8" r="2.15" fill="#00bfc4"/>
<circle cx="641.3" cy="129.5" r="2.15" fill="#00bfc4"/>
<circle cx="640.8" cy="134.8" r="2.15" fill="#00bfc4"/>
<circle cx="635.7" cy="137.6" r="2.15" fill="#00bfc4"/>
<circle cx="632.8" cy="130.1" r="2.15" fill="#00bfc4"/>
<circle cx="627.4" cy="131.2" r="2.15" fill="#00bfc4"/>
<circle cx="640.8" cy="123.6" r="2.15" fill="#00bfc4"/>
<circle cx="636.3" cy="121.9" r="2.15" fill="#00bfc4"/>
<circle cx="634.8" cy="137.1" r="2.15" fill="#00bfc4"/>
<circle cx="623.0" cy="131.9" r="2.15" fill="#00bfc4"/>
<circle cx="641.9" cy="133.8" r="2.15" fill="#00bfc4"/>
<circle cx="630.5" cy="126.0" r="2.15" fill="#00bfc4"/>
<circle cx="617.6" cy="128.2" r="2.15" fill="#00bfc4"/>
<circle cx="627.0" cy="125.0" r="2.15" fill="#00bfc4"/>
<circle cx="624.3" cy="123.7" r="2.15" fill="#00bfc4"/>
<circle cx="634.9" cy="134.4" r="2.15" fill="#00bfc4"/>
<circle cx="622.4" cy="125.8" r="2.15" fill="#00bfc4"/>
<circle cx="629.8" cy="129.9" r="2.15" fill="#00bfc4"/>
<circle cx="641.0" cy="128.0" r="2.15" fill="#00bfc4"/>
<circle cx="624.0" cy="138.7" r="2.15" fill="#00bfc4"/>
<circle cx="619.8" cy="132.3" r="2.15" fill="#00bfc4"/>
<circle cx="624.9" cy="137.3" r="2.15" fill="#00bfc4"/>
<circle cx="630.6" cy="136.2" r="2.15" fill="#00bfc4"/>
<circle cx="641.7" cy="142.1" r="2.15" fill="#00bfc4"/>
<circle cx="650.6" cy="150.3" r="2.15" fill="#00bfc4"/>
<circle cx="616.1" cy="138.4" r="2.15" fill="#00bfc4"/>
<circle cx="629.1" cy="136.5" r="2.15" fill="#00bfc4"/>
<circle cx="613.2" cy="138.2" r="2.15" fill="#00bfc4"/>
<circle cx="627.2" cy="142.3" r="2.15" fill="#00bfc4"/>
<circle cx="629.2" cy="135.7" r="2.15" fill="#00bfc4"/>
<circle cx="662.6" cy="148.5" r="2.15" fill="#00bfc4"/>
<circle cx="633.0" cy="136.2" r="2.15" fill="#00bfc4"/>
<circle cx="658.7" cy="146.2" r="2.15" fill="#00bfc4"/>
<circle cx="623.0" cy="135.1" r="2.15" fill="#00bfc4"/>
<circle cx="654.8" cy="152.4" r="2.15" fill="#00bfc4"/>
<circle cx="654.0" cy="148.3" r="2.15" fill="#00bfc4"/>
<circle cx="627.3" cy="136.1" r="2.15" fill="#00bfc4"/>
<circle cx="629.5" cy="144.1" r="2.15" fill="#00bfc4"/>
<circle cx="640.0" cy="145.8" r="2.15" fill="#00bfc4"/>
<circle cx="653.4" cy="147.5" r="2.15" fill="#00bfc4"/>
<circle cx="658.0" cy="152.8" r="2.15" fill="#00bfc4"/>
<circle cx="636.2" cy="143.0" r="2.15" fill="#00bfc4"/>
<circle cx="618.3" cy="138.6" r="2.15" fill="#00bfc4"/>
<circle cx="614.8" cy="132.9" r="2.15" fill="#00bfc4"/>
<circle cx="633.3" cy="136.2" r="2.15" fill="#00bfc4"/>
<circle cx="654.6" cy="150.8" r="2.15" fill="#00bfc4"/>
<circle cx="651.7" cy="141.4" r="2.15" fill="#00bfc4"/>
<circle cx="637.3" cy="141.3" r="2.15" fill="#00bfc4"/>
<circle cx="627.9" cy="141.7" r="2.15" fill="#00bfc4"/>
<circle cx="645.3" cy="150.2" r="2.15" fill="#00bfc4"/>
<circle cx="625.7" cy="141.7" r="2.15" fill="#00bfc4"/>
<circle cx="639.9" cy="139.7" r="2.15" fill="#00bfc4"/>
<circle cx="620.4" cy="133.9" r="2.15" fill="#00bfc4"/>
<circle cx="627.2" cy="142.1" r="2.15" fill="#00bfc4"/>
<circle cx="661.5" cy="152.0" r="2.15" fill="#00bfc4"/>
<circle cx="661.0" cy="145.6" r="2.15" fill="#00bfc4"/>
<circle cx="645.9" cy="145.4" r="2.15" fill="#00bfc4"/>
<circle cx="625.7" cy="144.6" r="2.15" fill="#00bfc4"/>
<circle cx="644.3" cy="138.6" r="2.15" fill="#00bfc4"/>
<circle cx="611.5" cy="136.2" r="2.15" fill="#00bfc4"/>
<circle cx="646.0" cy="141.8" r="2.15" fill="#00bfc4"/>
<circle cx="629.7" cy="144.8" r="2.15" fill="#00bfc4"/>
<circle cx="638.5" cy="154.4" r="2.15" fill="#00bfc4"/>
<circle cx="641.5" cy="152.0" r="2.15" fill="#00bfc4"/>
<circle cx="632.3" cy="148.2" r="2.15" fill="#00bfc4"/>
<circle cx="648.1" cy="154.7" r="2.15" fill="#00bfc4"/>
<circle cx="632.3" cy="160.3" r="2.15" fill="#00bfc4"/>
<circle cx="635.1" cy="146.7" r="2.15" fill="#00bfc4"/>
<circle cx="640.8" cy="149.5" r="2.15" fill="#00bfc4"/>
<circle cx="639.9" cy="154.8" r="2.15" fill="#00bfc4"/>
<circle cx="634.6" cy="155.1" r="2.15" fill="#00bfc4"/>
<circle cx="632.3" cy="154.1" r="2.15" fill="#00bfc4"/>
<circle cx="641.9" cy="146.4" r="2.15" fill="#00bfc4"/>
<circle cx="638.3" cy="146.3" r="2.15" fill="#00bfc4"/>
<circle cx="638.9" cy="160.3" r="2.15" fill="#00bfc4"/>
<circle cx="641.2" cy="157.6" r="2.15" fill="#00bfc4"/>
<circle cx="645.4" cy="147.0" r="2.15" fill="#00bfc4"/>
<circle cx="650.1" cy="157.8" r="2.15" fill="#00bfc4"/>
<circle cx="686.7" cy="104.1" r="2.15" fill="#f8766d"/>
<circle cx="685.8" cy="97.0" r="2.15" fill="#f8766d"/>
<circle cx="690.6" cy="142.0" r="2.15" fill="#f8766d"/>
<circle cx="703.5" cy="148.1" r="2.15" fill="#f8766d"/>
<circle cx="682.4" cy="104.1" r="2.15" fill="#f8766d"/>
<circle cx="705.6" cy="160.0" r="2.15" fill="#f8766d"/>
<circle cx="698.5" cy="145.9" r="2.15" fill="#f8766d"/>
<circle cx="685.0" cy="111.3" r="2.15" fill="#f8766d"/>
<circle cx="684.7" cy="121.7" r="2.15" fill="#f8766d"/>
<circle cx="688.7" cy="134.6" r="2.15" fill="#f8766d"/>
<circle cx="703.8" cy="146.4" r="2.15" fill="#f8766d"/>
<circle cx="696.7" cy="152.7" r="2.15" fill="#f8766d"/>
<circle cx="680.6" cy="99.9" r="2.15" fill="#f8766d"/>
<circle cx="684.1" cy="103.0" r="2.15" fill="#f8766d"/>
<circle cx="695.4" cy="123.9" r="2.15" fill="#f8766d"/>
<circle cx="692.4" cy="102.2" r="2.15" fill="#f8766d"/>
<circle cx="688.1" cy="116.5" r="2.15" fill="#f8766d"/>
<circle cx="687.6" cy="123.1" r="2.15" fill="#f8766d"/>
<circle cx="698.9" cy="142.8" r="2.15" fill="#f8766d"/>
<circle cx="701.7" cy="129.5" r="2.15" fill="#f8766d"/>
<circle cx="691.5" cy="95.2" r="2.15" fill="#f8766d"/>
<circle cx="680.0" cy="100.6" r="2.15" fill="#f8766d"/>
<circle cx="686.9" cy="90.7" r="2.15" fill="#f8766d"/>
<circle cx="694.9" cy="111.2" r="2.15" fill="#f8766d"/>
<circle cx="684.1" cy="74.3" r="2.15" fill="#f8766d"/>
<circle cx="689.1" cy="97.9" r="2.15" fill="#f8766d"/>
<circle cx="691.2" cy="143.1" r="2.15" fill="#f8766d"/>
<circle cx="680.3" cy="114.9" r="2.15" fill="#f8766d"/>
<circle cx="683.9" cy="93.9" r="2.15" fill="#f8766d"/>
<circle cx="700.5" cy="151.8" r="2.15" fill="#f8766d"/>
<circle cx="705.5" cy="161.4" r="2.15" fill="#f8766d"/>
<circle cx="684.8" cy="120.0" r="2.15" fill="#f8766d"/>
<circle cx="690.1" cy="140.7" r="2.15" fill="#f8766d"/>
<circle cx="679.9" cy="108.1" r="2.15" fill="#f8766d"/>
<circle cx="690.4" cy="115.9" r="2.15" fill="#f8766d"/>
<circle cx="701.0" cy="138.2" r="2.15" fill="#f8766d"/>
<circle cx="683.6" cy="81.8" r="2.15" fill="#f8766d"/>
<circle cx="698.1" cy="125.0" r="2.15" fill="#f8766d"/>
<circle cx="698.7" cy="131.7" r="2.15" fill="#f8766d"/>
<circle cx="704.7" cy="142.0" r="2.15" fill="#f8766d"/>
<circle cx="707.0" cy="162.8" r="2.15" fill="#f8766d"/>
<circle cx="695.7" cy="131.5" r="2.15" fill="#f8766d"/>
<circle cx="680.0" cy="116.6" r="2.15" fill="#f8766d"/>
<circle cx="683.4" cy="85.1" r="2.15" fill="#f8766d"/>
<circle cx="705.7" cy="157.4" r="2.15" fill="#f8766d"/>
<circle cx="683.8" cy="70.7" r="2.15" fill="#f8766d"/>
<circle cx="686.2" cy="92.4" r="2.15" fill="#f8766d"/>
<circle cx="687.6" cy="110.0" r="2.15" fill="#f8766d"/>
<circle cx="686.5" cy="87.6" r="2.15" fill="#f8766d"/>
<circle cx="685.9" cy="123.2" r="2.15" fill="#f8766d"/>
<circle cx="706.2" cy="147.8" r="2.15" fill="#f8766d"/>
<circle cx="688.4" cy="100.1" r="2.15" fill="#f8766d"/>
<circle cx="700.3" cy="111.9" r="2.15" fill="#f8766d"/>
<circle cx="699.7" cy="153.6" r="2.15" fill="#f8766d"/>
<circle cx="691.4" cy="143.6" r="2.15" fill="#f8766d"/>
<circle cx="681.4" cy="84.3" r="2.15" fill="#f8766d"/>
<circle cx="682.3" cy="115.2" r="2.15" fill="#f8766d"/>
<circle cx="682.8" cy="109.5" r="2.15" fill="#f8766d"/>
<circle cx="691.1" cy="116.1" r="2.15" fill="#f8766d"/>
<circle cx="688.0" cy="85.1" r="2.15" fill="#f8766d"/>
<circle cx="687.7" cy="74.6" r="2.15" fill="#f8766d"/>
<circle cx="679.3" cy="117.3" r="2.15" fill="#f8766d"/>
<circle cx="693.2" cy="121.9" r="2.15" fill="#f8766d"/>
<circle cx="703.8" cy="131.3" r="2.15" fill="#f8766d"/>
<circle cx="698.3" cy="121.2" r="2.15" fill="#f8766d"/>
<circle cx="703.9" cy="163.3" r="2.15" fill="#f8766d"/>
<circle cx="692.8" cy="98.8" r="2.15" fill="#f8766d"/>
<circle cx="692.4" cy="105.3" r="2.15" fill="#f8766d"/>
<circle cx="700.7" cy="157.8" r="2.15" fill="#f8766d"/>
<circle cx="687.4" cy="127.2" r="2.15" fill="#f8766d"/>
<circle cx="692.0" cy="91.3" r="2.15" fill="#f8766d"/>
<circle cx="685.2" cy="79.2" r="2.15" fill="#f8766d"/>
<circle cx="686.6" cy="129.0" r="2.15" fill="#f8766d"/>
<circle cx="697.6" cy="127.4" r="2.15" fill="#f8766d"/>
<circle cx="686.2" cy="127.4" r="2.15" fill="#f8766d"/>
<circle cx="695.6" cy="138.0" r="2.15" fill="#f8766d"/>
<circle cx="697.5" cy="114.2" r="2.15" fill="#f8766d"/>
<circle cx="686.1" cy="81.7" r="2.15" fill="#f8766d"/>
<circle cx="697.6" cy="119.1" r="2.15" fill="#f8766d"/>
<circle cx="695.1" cy="130.1" r="2.15" fill="#f8766d"/>
<circle cx="683.5" cy="92.3" r="2.15" fill="#f8766d"/>
<circle cx="681.6" cy="102.5" r="2.15" fill="#f8766d"/>
<circle cx="695.8" cy="145.4" r="2.15" fill="#f8766d"/>
<circle cx="691.8" cy="100.9" r="2.15" fill="#f8766d"/>
<circle cx="685.3" cy="123.3" r="2.15" fill="#f8766d"/>
<circle cx="690.0" cy="91.4" r="2.15" fill="#f8766d"/>
<circle cx="701.8" cy="151.3" r="2.15" fill="#f8766d"/>
<circle cx="685.3" cy="109.0" r="2.15" fill="#f8766d"/>
<circle cx="694.5" cy="103.6" r="2.15" fill="#f8766d"/>
<circle cx="693.2" cy="130.8" r="2.15" fill="#f8766d"/>
<circle cx="692.3" cy="124.1" r="2.15" fill="#f8766d"/>
<circle cx="691.8" cy="132.5" r="2.15" fill="#f8766d"/>
<circle cx="697.6" cy="116.1" r="2.15" fill="#f8766d"/>
<circle cx="695.2" cy="112.8" r="2.15" fill="#f8766d"/>
<circle cx="694.4" cy="115.6" r="2.15" fill="#f8766d"/>
<circle cx="697.1" cy="148.0" r="2.15" fill="#f8766d"/>
<circle cx="703.1" cy="139.8" r="2.15" fill="#f8766d"/>
<circle cx="706.9" cy="142.7" r="2.15" fill="#f8766d"/>
<circle cx="682.2" cy="89.3" r="2.15" fill="#f8766d"/>
<circle cx="693.5" cy="124.6" r="2.15" fill="#f8766d"/>
<circle cx="690.4" cy="118.2" r="2.15" fill="#f8766d"/>
<circle cx="688.1" cy="93.4" r="2.15" fill="#f8766d"/>
<circle cx="689.6" cy="92.7" r="2.15" fill="#f8766d"/>
<circle cx="679.6" cy="97.5" r="2.15" fill="#f8766d"/>
<circle cx="685.4" cy="73.0" r="2.15" fill="#f8766d"/>
<circle cx="695.3" cy="115.4" r="2.15" fill="#f8766d"/>
<circle cx="679.6" cy="98.4" r="2.15" fill="#f8766d"/>
<circle cx="688.7" cy="136.9" r="2.15" fill="#f8766d"/>
<circle cx="679.9" cy="110.0" r="2.15" fill="#f8766d"/>
<circle cx="703.2" cy="133.4" r="2.15" fill="#f8766d"/>
<circle cx="688.9" cy="88.4" r="2.15" fill="#f8766d"/>
<circle cx="681.5" cy="77.1" r="2.15" fill="#f8766d"/>
<circle cx="707.4" cy="160.2" r="2.15" fill="#f8766d"/>
<circle cx="693.4" cy="131.9" r="2.15" fill="#f8766d"/>
<circle cx="688.8" cy="90.5" r="2.15" fill="#f8766d"/>
<circle cx="708.0" cy="163.1" r="2.15" fill="#f8766d"/>
<circle cx="692.1" cy="130.1" r="2.15" fill="#f8766d"/>
<circle cx="686.2" cy="120.9" r="2.15" fill="#f8766d"/>
<circle cx="681.2" cy="113.0" r="2.15" fill="#f8766d"/>
<circle cx="688.7" cy="101.7" r="2.15" fill="#f8766d"/>
<circle cx="696.1" cy="151.8" r="2.15" fill="#f8766d"/>
<circle cx="681.1" cy="81.5" r="2.15" fill="#f8766d"/>
<circle cx="700.4" cy="161.8" r="2.15" fill="#f8766d"/>
<circle cx="690.3" cy="111.6" r="2.15" fill="#f8766d"/>
<circle cx="689.0" cy="74.6" r="2.15" fill="#f8766d"/>
<circle cx="698.6" cy="144.4" r="2.15" fill="#f8766d"/>
<circle cx="700.3" cy="112.7" r="2.15" fill="#f8766d"/>
<circle cx="679.0" cy="117.7" r="2.15" fill="#f8766d"/>
<circle cx="682.7" cy="124.0" r="2.15" fill="#f8766d"/>
<circle cx="691.1" cy="104.3" r="2.15" fill="#f8766d"/>
<circle cx="683.3" cy="77.0" r="2.15" fill="#f8766d"/>
<circle cx="696.5" cy="119.9" r="2.15" fill="#f8766d"/>
<circle cx="682.2" cy="113.3" r="2.15" fill="#f8766d"/>
<circle cx="683.9" cy="119.9" r="2.15" fill="#f8766d"/>
<circle cx="685.2" cy="107.1" r="2.15" fill="#f8766d"/>
<circle cx="685.4" cy="80.2" r="2.15" fill="#f8766d"/>
<circle cx="696.2" cy="144.7" r="2.15" fill="#f8766d"/>
<circle cx="699.3" cy="134.8" r="2.15" fill="#f8766d"/>
<circle cx="683.5" cy="93.6" r="2.15" fill="#f8766d"/>
<circle cx="678.9" cy="106.1" r="2.15" fill="#f8766d"/>
<circle cx="700.3" cy="144.0" r="2.15" fill="#f8766d"/>
<circle cx="687.0" cy="126.1" r="2.15" fill="#f8766d"/>
<circle cx="701.1" cy="135.1" r="2.15" fill="#f8766d"/>
<circle cx="685.2" cy="89.2" r="2.15" fill="#f8766d"/>
<circle cx="695.9" cy="116.2" r="2.15" fill="#f8766d"/>
<circle cx="707.2" cy="156.1" r="2.15" fill="#f8766d"/>
<circle cx="685.2" cy="128.6" r="2.15" fill="#f8766d"/>
<circle cx="709.1" cy="158.9" r="2.15" fill="#f8766d"/>
<circle cx="686.5" cy="87.1" r="2.15" fill="#f8766d"/>
<circle cx="703.7" cy="136.9" r="2.15" fill="#f8766d"/>
<circle cx="692.6" cy="144.0" r="2.15" fill="#f8766d"/>
<circle cx="702.4" cy="149.1" r="2.15" fill="#f8766d"/>
<circle cx="690.6" cy="125.7" r="2.15" fill="#f8766d"/>
<circle cx="700.6" cy="112.3" r="2.15" fill="#f8766d"/>
<circle cx="690.4" cy="88.6" r="2.15" fill="#f8766d"/>
<circle cx="681.0" cy="94.2" r="2.15" fill="#f8766d"/>
<circle cx="702.8" cy="146.3" r="2.15" fill="#f8766d"/>
<circle cx="684.7" cy="94.3" r="2.15" fill="#f8766d"/>
<circle cx="700.8" cy="154.7" r="2.15" fill="#f8766d"/>
<circle cx="692.6" cy="116.4" r="2.15" fill="#f8766d"/>
<circle cx="694.9" cy="146.5" r="2.15" fill="#f8766d"/>
<circle cx="687.2" cy="102.1" r="2.15" fill="#f8766d"/>
<circle cx="681.5" cy="121.6" r="2.15" fill="#f8766d"/>
<circle cx="691.4" cy="132.1" r="2.15" fill="#f8766d"/>
<circle cx="697.5" cy="133.6" r="2.15" fill="#f8766d"/>
<circle cx="694.7" cy="140.8" r="2.15" fill="#f8766d"/>
<circle cx="683.2" cy="125.0" r="2.15" fill="#f8766d"/>
<circle cx="692.6" cy="140.5" r="2.15" fill="#f8766d"/>
<circle cx="704.6" cy="135.0" r="2.15" fill="#f8766d"/>
<circle cx="688.2" cy="83.6" r="2.15" fill="#f8766d"/>
<circle cx="699.5" cy="148.1" r="2.15" fill="#f8766d"/>
<circle cx="683.0" cy="118.0" r="2.15" fill="#f8766d"/>
<circle cx="689.0" cy="105.1" r="2.15" fill="#f8766d"/>
<circle cx="684.8" cy="97.9" r="2.15" fill="#f8766d"/>
<circle cx="689.9" cy="110.5" r="2.15" fill="#f8766d"/>
<circle cx="681.8" cy="93.2" r="2.15" fill="#f8766d"/>
<circle cx="692.6" cy="105.3" r="2.15" fill="#f8766d"/>
<circle cx="694.8" cy="149.2" r="2.15" fill="#f8766d"/>
<circle cx="701.8" cy="143.5" r="2.15" fill="#f8766d"/>
<circle cx="689.6" cy="82.7" r="2.15" fill="#f8766d"/>
<circle cx="698.9" cy="133.0" r="2.15" fill="#f8766d"/>
<circle cx="687.8" cy="91.5" r="2.15" fill="#f8766d"/>
<circle cx="706.3" cy="133.7" r="2.15" fill="#f8766d"/>
<circle cx="693.3" cy="146.3" r="2.15" fill="#f8766d"/>
<circle cx="681.9" cy="97.7" r="2.15" fill="#f8766d"/>
<circle cx="702.1" cy="161.8" r="2.15" fill="#f8766d"/>
<circle cx="701.7" cy="135.1" r="2.15" fill="#f8766d"/>
<circle cx="690.7" cy="106.0" r="2.15" fill="#f8766d"/>
<circle cx="697.9" cy="118.5" r="2.15" fill="#f8766d"/>
<circle cx="703.1" cy="155.4" r="2.15" fill="#f8766d"/>
<circle cx="682.8" cy="100.8" r="2.15" fill="#f8766d"/>
<circle cx="680.2" cy="108.0" r="2.15" fill="#f8766d"/>
<circle cx="696.7" cy="150.6" r="2.15" fill="#f8766d"/>
<circle cx="693.0" cy="123.6" r="2.15" fill="#f8766d"/>
<circle cx="705.9" cy="147.6" r="2.15" fill="#f8766d"/>
<circle cx="702.3" cy="153.2" r="2.15" fill="#f8766d"/>
<circle cx="688.1" cy="74.4" r="2.15" fill="#f8766d"/>
<circle cx="700.6" cy="147.9" r="2.15" fill="#f8766d"/>
<circle cx="688.0" cy="88.6" r="2.15" fill="#f8766d"/>
<circle cx="686.2" cy="77.0" r="2.15" fill="#f8766d"/>
<circle cx="703.3" cy="162.6" r="2.15" fill="#f8766d"/>
<circle cx="683.0" cy="94.6" r="2.15" fill="#f8766d"/>
<circle cx="679.9" cy="111.2" r="2.15" fill="#f8766d"/>
<circle cx="698.7" cy="146.3" r="2.15" fill="#f8766d"/>
<circle cx="681.9" cy="89.7" r="2.15" fill="#f8766d"/>
<circle cx="690.2" cy="123.1" r="2.15" fill="#f8766d"/>
<circle cx="678.8" cy="116.9" r="2.15" fill="#f8766d"/>
<circle cx="701.6" cy="138.3" r="2.15" fill="#f8766d"/>
<circle cx="697.1" cy="125.1" r="2.15" fill="#f8766d"/>
<circle cx="694.9" cy="134.2" r="2.15" fill="#f8766d"/>
<circle cx="693.0" cy="95.3" r="2.15" fill="#f8766d"/>
<circle cx="697.3" cy="110.5" r="2.15" fill="#f8766d"/>
<circle cx="685.2" cy="93.7" r="2.15" fill="#f8766d"/>
<circle cx="698.9" cy="136.0" r="2.15" fill="#f8766d"/>
<circle cx="713.6" cy="157.2" r="2.15" fill="#f8766d"/>
<circle cx="705.1" cy="137.8" r="2.15" fill="#f8766d"/>
<circle cx="687.7" cy="102.4" r="2.15" fill="#f8766d"/>
<circle cx="683.9" cy="129.3" r="2.15" fill="#f8766d"/>
<circle cx="692.3" cy="64.1" r="2.15" fill="#f8766d"/>
<circle cx="692.3" cy="69.8" r="2.15" fill="#f8766d"/>
<circle cx="691.6" cy="90.1" r="2.15" fill="#f8766d"/>
<circle cx="698.0" cy="90.1" r="2.15" fill="#f8766d"/>
<circle cx="677.7" cy="120.3" r="2.15" fill="#f8766d"/>
<circle cx="714.4" cy="145.6" r="2.15" fill="#f8766d"/>
<circle cx="687.8" cy="139.3" r="2.15" fill="#f8766d"/>
<circle cx="706.6" cy="166.4" r="2.15" fill="#f8766d"/>
<circle cx="710.4" cy="165.1" r="2.15" fill="#f8766d"/>
<circle cx="712.9" cy="167.7" r="2.15" fill="#f8766d"/>
<circle cx="709.1" cy="170.2" r="2.15" fill="#f8766d"/>
<circle cx="720.5" cy="166.4" r="2.15" fill="#f8766d"/>
<circle cx="721.8" cy="170.2" r="2.15" fill="#f8766d"/>
<circle cx="718.0" cy="174.0" r="2.15" fill="#f8766d"/>
<circle cx="715.4" cy="176.5" r="2.15" fill="#f8766d"/>
<circle cx="712.9" cy="177.8" r="2.15" fill="#f8766d"/>
<circle cx="723.0" cy="177.8" r="2.15" fill="#f8766d"/>
<circle cx="724.3" cy="180.3" r="2.15" fill="#f8766d"/>
<circle cx="728.1" cy="181.6" r="2.15" fill="#f8766d"/>
<circle cx="712.9" cy="185.4" r="2.15" fill="#f8766d"/>
<circle cx="721.8" cy="186.6" r="2.15" fill="#f8766d"/>
<circle cx="724.3" cy="185.4" r="2.15" fill="#f8766d"/>
<circle cx="725.6" cy="188.5" r="2.15" fill="#f8766d"/>
<circle cx="723.0" cy="191.7" r="2.15" fill="#f8766d"/>
<circle cx="725.6" cy="193.0" r="2.15" fill="#f8766d"/>
<circle cx="728.7" cy="191.7" r="2.15" fill="#f8766d"/>
<circle cx="723.0" cy="194.2" r="2.15" fill="#f8766d"/>
<circle cx="738.2" cy="181.6" r="2.15" fill="#f8766d"/>
<circle cx="740.1" cy="182.2" r="2.15" fill="#f8766d"/>
<circle cx="737.0" cy="185.4" r="2.15" fill="#f8766d"/>
<circle cx="734.4" cy="192.3" r="2.15" fill="#f8766d"/>
<circle cx="737.0" cy="194.2" r="2.15" fill="#f8766d"/>
<circle cx="739.5" cy="193.0" r="2.15" fill="#f8766d"/>
<circle cx="740.8" cy="194.2" r="2.15" fill="#f8766d"/>
<circle cx="731.9" cy="200.6" r="2.15" fill="#f8766d"/>
<circle cx="733.2" cy="203.7" r="2.15" fill="#f8766d"/>
<circle cx="732.5" cy="206.9" r="2.15" fill="#f8766d"/>
<circle cx="733.2" cy="210.7" r="2.15" fill="#f8766d"/>
<circle cx="740.1" cy="200.6" r="2.15" fill="#f8766d"/>
<circle cx="740.1" cy="203.7" r="2.15" fill="#f8766d"/>
<circle cx="740.1" cy="206.9" r="2.15" fill="#f8766d"/>
<circle cx="739.5" cy="210.7" r="2.15" fill="#f8766d"/>
<circle cx="739.5" cy="213.9" r="2.15" fill="#f8766d"/>
<circle cx="696.5" cy="161.3" r="2.15" fill="#f8766d"/>
<circle cx="704.0" cy="157.0" r="2.15" fill="#f8766d"/>
<circle cx="708.0" cy="157.0" r="2.15" fill="#f8766d"/>
<circle cx="712.0" cy="158.0" r="2.15" fill="#f8766d"/>
<circle cx="716.0" cy="159.0" r="2.15" fill="#f8766d"/>
<circle cx="718.0" cy="156.0" r="2.15" fill="#f8766d"/>
<circle cx="700.0" cy="156.0" r="2.15" fill="#f8766d"/>
<circle cx="710.0" cy="160.0" r="2.15" fill="#f8766d"/>
<circle cx="703.0" cy="160.0" r="2.15" fill="#f8766d"/>
<circle cx="719.0" cy="172.0" r="2.15" fill="#f8766d"/>
<circle cx="717.0" cy="180.0" r="2.15" fill="#f8766d"/>
<circle cx="720.0" cy="183.0" r="2.15" fill="#f8766d"/>
<circle cx="718.0" cy="188.0" r="2.15" fill="#f8766d"/>
<circle cx="103.7" cy="387.1" r="2.4" fill="#4fc0c6"/>
<circle cx="108.2" cy="387.0" r="2.4" fill="#4fc0c6"/>
<circle cx="113.0" cy="386.4" r="2.4" fill="#4fc0c6"/>
<circle cx="103.4" cy="390.4" r="2.4" fill="#4fc0c6"/>
<circle cx="107.6" cy="389.8" r="2.4" fill="#4fc0c6"/>
<circle cx="112.5" cy="390.8" r="2.4" fill="#4fc0c6"/>
<circle cx="103.6" cy="392.4" r="2.4" fill="#4fc0c6"/>
<circle cx="109.1" cy="393.6" r="2.4" fill="#4fc0c6"/>
<circle cx="113.5" cy="392.6" r="2.4" fill="#4fc0c6"/>
<circle cx="102.1" cy="396.5" r="2.4" fill="#4fc0c6"/>
<circle cx="109.6" cy="395.5" r="2.4" fill="#4fc0c6"/>
<circle cx="113.6" cy="396.3" r="2.4" fill="#4fc0c6"/>
<circle cx="102.5" cy="399.6" r="2.4" fill="#4fc0c6"/>
<circle cx="106.2" cy="399.9" r="2.4" fill="#4fc0c6"/>
<circle cx="110.0" cy="400.6" r="2.4" fill="#4fc0c6"/>
<circle cx="115.6" cy="400.3" r="2.4" fill="#4fc0c6"/>
<circle cx="100.3" cy="402.4" r="2.4" fill="#4fc0c6"/>
<circle cx="103.7" cy="401.9" r="2.4" fill="#4fc0c6"/>
<circle cx="108.1" cy="403.4" r="2.4" fill="#4fc0c6"/>
<circle cx="113.3" cy="403.4" r="2.4" fill="#4fc0c6"/>
<circle cx="115.7" cy="402.2" r="2.4" fill="#4fc0c6"/>
<circle cx="99.1" cy="405.8" r="2.4" fill="#4fc0c6"/>
<circle cx="102.1" cy="405.0" r="2.4" fill="#4fc0c6"/>
<circle cx="106.8" cy="405.4" r="2.4" fill="#4fc0c6"/>
<circle cx="110.0" cy="406.8" r="2.4" fill="#4fc0c6"/>
<circle cx="113.6" cy="405.4" r="2.4" fill="#4fc0c6"/>
<circle cx="117.5" cy="405.0" r="2.4" fill="#4fc0c6"/>
<circle cx="93.9" cy="408.4" r="2.4" fill="#4fc0c6"/>
<circle cx="97.5" cy="408.4" r="2.4" fill="#4fc0c6"/>
<circle cx="101.2" cy="409.3" r="2.4" fill="#4fc0c6"/>
<circle cx="106.0" cy="408.5" r="2.4" fill="#4fc0c6"/>
<circle cx="111.3" cy="409.7" r="2.4" fill="#4fc0c6"/>
<circle cx="115.4" cy="408.5" r="2.4" fill="#4fc0c6"/>
<circle cx="119.6" cy="409.3" r="2.4" fill="#4fc0c6"/>
<circle cx="122.5" cy="410.0" r="2.4" fill="#4fc0c6"/>
<circle cx="90.1" cy="411.7" r="2.4" fill="#4fc0c6"/>
<circle cx="94.2" cy="411.8" r="2.4" fill="#4fc0c6"/>
<circle cx="97.7" cy="412.4" r="2.4" fill="#4fc0c6"/>
<circle cx="102.6" cy="411.9" r="2.4" fill="#4fc0c6"/>
<circle cx="107.2" cy="412.2" r="2.4" fill="#4fc0c6"/>
<circle cx="110.9" cy="411.6" r="2.4" fill="#4fc0c6"/>
<circle cx="114.9" cy="412.8" r="2.4" fill="#4fc0c6"/>
<circle cx="117.6" cy="412.7" r="2.4" fill="#4fc0c6"/>
<circle cx="121.5" cy="413.1" r="2.4" fill="#4fc0c6"/>
<circle cx="126.7" cy="412.4" r="2.4" fill="#4fc0c6"/>
<circle cx="88.8" cy="414.6" r="2.4" fill="#4fc0c6"/>
<circle cx="97.1" cy="415.8" r="2.4" fill="#4fc0c6"/>
<circle cx="102.4" cy="415.5" r="2.4" fill="#4fc0c6"/>
<circle cx="105.6" cy="415.8" r="2.4" fill="#4fc0c6"/>
<circle cx="110.0" cy="415.5" r="2.4" fill="#4fc0c6"/>
<circle cx="115.0" cy="414.9" r="2.4" fill="#4fc0c6"/>
<circle cx="118.5" cy="414.4" r="2.4" fill="#4fc0c6"/>
<circle cx="123.3" cy="414.5" r="2.4" fill="#4fc0c6"/>
<circle cx="127.1" cy="415.1" r="2.4" fill="#4fc0c6"/>
<circle cx="89.3" cy="417.8" r="2.4" fill="#4fc0c6"/>
<circle cx="94.1" cy="419.5" r="2.4" fill="#4fc0c6"/>
<circle cx="98.0" cy="418.7" r="2.4" fill="#4fc0c6"/>
<circle cx="101.1" cy="417.5" r="2.4" fill="#4fc0c6"/>
<circle cx="106.5" cy="419.4" r="2.4" fill="#4fc0c6"/>
<circle cx="114.7" cy="419.0" r="2.4" fill="#4fc0c6"/>
<circle cx="119.8" cy="417.7" r="2.4" fill="#4fc0c6"/>
<circle cx="123.6" cy="419.3" r="2.4" fill="#4fc0c6"/>
<circle cx="127.9" cy="418.9" r="2.4" fill="#4fc0c6"/>
<circle cx="89.6" cy="422.5" r="2.4" fill="#4fc0c6"/>
<circle cx="93.6" cy="422.5" r="2.4" fill="#4fc0c6"/>
<circle cx="97.4" cy="422.2" r="2.4" fill="#4fc0c6"/>
<circle cx="102.0" cy="421.9" r="2.4" fill="#4fc0c6"/>
<circle cx="106.3" cy="421.9" r="2.4" fill="#4fc0c6"/>
<circle cx="110.7" cy="422.6" r="2.4" fill="#4fc0c6"/>
<circle cx="115.1" cy="421.4" r="2.4" fill="#4fc0c6"/>
<circle cx="119.2" cy="421.5" r="2.4" fill="#4fc0c6"/>
<circle cx="122.5" cy="422.2" r="2.4" fill="#4fc0c6"/>
<circle cx="126.7" cy="421.9" r="2.4" fill="#4fc0c6"/>
<circle cx="88.5" cy="424.3" r="2.4" fill="#4fc0c6"/>
<circle cx="92.5" cy="425.0" r="2.4" fill="#4fc0c6"/>
<circle cx="96.0" cy="423.8" r="2.4" fill="#4fc0c6"/>
<circle cx="100.7" cy="424.2" r="2.4" fill="#4fc0c6"/>
<circle cx="105.1" cy="425.1" r="2.4" fill="#4fc0c6"/>
<circle cx="109.0" cy="424.5" r="2.4" fill="#4fc0c6"/>
<circle cx="111.7" cy="424.7" r="2.4" fill="#4fc0c6"/>
<circle cx="117.0" cy="425.6" r="2.4" fill="#4fc0c6"/>
<circle cx="120.3" cy="424.4" r="2.4" fill="#4fc0c6"/>
<circle cx="124.1" cy="425.5" r="2.4" fill="#4fc0c6"/>
<circle cx="128.7" cy="425.2" r="2.4" fill="#4fc0c6"/>
<circle cx="82.4" cy="427.5" r="2.4" fill="#4fc0c6"/>
<circle cx="85.6" cy="427.5" r="2.4" fill="#4fc0c6"/>
<circle cx="89.6" cy="428.2" r="2.4" fill="#4fc0c6"/>
<circle cx="93.6" cy="428.6" r="2.4" fill="#4fc0c6"/>
<circle cx="97.9" cy="427.1" r="2.4" fill="#4fc0c6"/>
<circle cx="105.4" cy="428.4" r="2.4" fill="#4fc0c6"/>
<circle cx="110.0" cy="428.5" r="2.4" fill="#4fc0c6"/>
<circle cx="118.5" cy="427.0" r="2.4" fill="#4fc0c6"/>
<circle cx="122.2" cy="427.2" r="2.4" fill="#4fc0c6"/>
<circle cx="130.8" cy="428.2" r="2.4" fill="#4fc0c6"/>
<circle cx="135.3" cy="428.6" r="2.4" fill="#4fc0c6"/>
<circle cx="80.1" cy="431.5" r="2.4" fill="#4fc0c6"/>
<circle cx="83.4" cy="430.5" r="2.4" fill="#4fc0c6"/>
<circle cx="92.1" cy="430.5" r="2.4" fill="#4fc0c6"/>
<circle cx="95.6" cy="431.5" r="2.4" fill="#4fc0c6"/>
<circle cx="100.2" cy="431.6" r="2.4" fill="#4fc0c6"/>
<circle cx="104.7" cy="431.9" r="2.4" fill="#4fc0c6"/>
<circle cx="109.1" cy="431.5" r="2.4" fill="#4fc0c6"/>
<circle cx="112.4" cy="431.4" r="2.4" fill="#4fc0c6"/>
<circle cx="116.4" cy="431.2" r="2.4" fill="#4fc0c6"/>
<circle cx="121.3" cy="432.0" r="2.4" fill="#4fc0c6"/>
<circle cx="125.1" cy="430.5" r="2.4" fill="#4fc0c6"/>
<circle cx="129.6" cy="431.4" r="2.4" fill="#4fc0c6"/>
<circle cx="132.6" cy="431.9" r="2.4" fill="#4fc0c6"/>
<circle cx="138.2" cy="432.1" r="2.4" fill="#4fc0c6"/>
<circle cx="79.4" cy="434.8" r="2.4" fill="#4fc0c6"/>
<circle cx="84.2" cy="435.0" r="2.4" fill="#4fc0c6"/>
<circle cx="86.8" cy="434.1" r="2.4" fill="#4fc0c6"/>
<circle cx="92.2" cy="434.2" r="2.4" fill="#4fc0c6"/>
<circle cx="99.2" cy="434.8" r="2.4" fill="#4fc0c6"/>
<circle cx="103.9" cy="434.8" r="2.4" fill="#4fc0c6"/>
<circle cx="107.7" cy="434.3" r="2.4" fill="#4fc0c6"/>
<circle cx="113.1" cy="434.6" r="2.4" fill="#4fc0c6"/>
<circle cx="116.6" cy="435.1" r="2.4" fill="#4fc0c6"/>
<circle cx="120.2" cy="434.3" r="2.4" fill="#4fc0c6"/>
<circle cx="125.3" cy="434.5" r="2.4" fill="#4fc0c6"/>
<circle cx="129.6" cy="434.4" r="2.4" fill="#4fc0c6"/>
<circle cx="132.9" cy="434.9" r="2.4" fill="#4fc0c6"/>
<circle cx="138.0" cy="433.7" r="2.4" fill="#4fc0c6"/>
<circle cx="79.9" cy="438.3" r="2.4" fill="#4fc0c6"/>
<circle cx="83.6" cy="436.8" r="2.4" fill="#4fc0c6"/>
<circle cx="87.6" cy="437.6" r="2.4" fill="#4fc0c6"/>
<circle cx="95.9" cy="437.2" r="2.4" fill="#4fc0c6"/>
<circle cx="100.1" cy="437.4" r="2.4" fill="#4fc0c6"/>
<circle cx="103.4" cy="437.5" r="2.4" fill="#4fc0c6"/>
<circle cx="109.1" cy="438.2" r="2.4" fill="#4fc0c6"/>
<circle cx="112.4" cy="436.7" r="2.4" fill="#4fc0c6"/>
<circle cx="117.2" cy="438.2" r="2.4" fill="#4fc0c6"/>
<circle cx="120.4" cy="436.8" r="2.4" fill="#4fc0c6"/>
<circle cx="125.6" cy="436.7" r="2.4" fill="#4fc0c6"/>
<circle cx="128.2" cy="436.8" r="2.4" fill="#4fc0c6"/>
<circle cx="133.5" cy="437.0" r="2.4" fill="#4fc0c6"/>
<circle cx="137.0" cy="437.6" r="2.4" fill="#4fc0c6"/>
<circle cx="78.6" cy="441.0" r="2.4" fill="#4fc0c6"/>
<circle cx="83.5" cy="440.1" r="2.4" fill="#4fc0c6"/>
<circle cx="87.6" cy="440.4" r="2.4" fill="#4fc0c6"/>
<circle cx="91.6" cy="440.6" r="2.4" fill="#4fc0c6"/>
<circle cx="95.3" cy="440.8" r="2.4" fill="#4fc0c6"/>
<circle cx="100.1" cy="441.3" r="2.4" fill="#4fc0c6"/>
<circle cx="104.8" cy="440.0" r="2.4" fill="#4fc0c6"/>
<circle cx="108.9" cy="441.4" r="2.4" fill="#4fc0c6"/>
<circle cx="112.1" cy="441.4" r="2.4" fill="#4fc0c6"/>
<circle cx="117.5" cy="441.3" r="2.4" fill="#4fc0c6"/>
<circle cx="120.3" cy="441.0" r="2.4" fill="#4fc0c6"/>
<circle cx="124.1" cy="441.2" r="2.4" fill="#4fc0c6"/>
<circle cx="129.5" cy="439.8" r="2.4" fill="#4fc0c6"/>
<circle cx="133.5" cy="439.6" r="2.4" fill="#4fc0c6"/>
<circle cx="136.8" cy="440.9" r="2.4" fill="#4fc0c6"/>
<circle cx="82.1" cy="444.6" r="2.4" fill="#4fc0c6"/>
<circle cx="85.5" cy="444.2" r="2.4" fill="#4fc0c6"/>
<circle cx="90.0" cy="443.1" r="2.4" fill="#4fc0c6"/>
<circle cx="93.1" cy="442.8" r="2.4" fill="#4fc0c6"/>
<circle cx="98.0" cy="443.8" r="2.4" fill="#4fc0c6"/>
<circle cx="101.5" cy="443.1" r="2.4" fill="#4fc0c6"/>
<circle cx="107.1" cy="444.6" r="2.4" fill="#4fc0c6"/>
<circle cx="109.6" cy="444.6" r="2.4" fill="#4fc0c6"/>
<circle cx="115.0" cy="443.4" r="2.4" fill="#4fc0c6"/>
<circle cx="118.7" cy="443.6" r="2.4" fill="#4fc0c6"/>
<circle cx="121.9" cy="444.1" r="2.4" fill="#4fc0c6"/>
<circle cx="126.3" cy="443.6" r="2.4" fill="#4fc0c6"/>
<circle cx="130.9" cy="443.1" r="2.4" fill="#4fc0c6"/>
<circle cx="134.6" cy="443.7" r="2.4" fill="#4fc0c6"/>
<circle cx="90.0" cy="447.6" r="2.4" fill="#4fc0c6"/>
<circle cx="95.1" cy="447.6" r="2.4" fill="#4fc0c6"/>
<circle cx="98.4" cy="447.0" r="2.4" fill="#4fc0c6"/>
<circle cx="103.4" cy="447.5" r="2.4" fill="#4fc0c6"/>
<circle cx="107.1" cy="447.3" r="2.4" fill="#4fc0c6"/>
<circle cx="110.8" cy="446.7" r="2.4" fill="#4fc0c6"/>
<circle cx="114.8" cy="447.2" r="2.4" fill="#4fc0c6"/>
<circle cx="118.5" cy="446.7" r="2.4" fill="#4fc0c6"/>
<circle cx="121.1" cy="446.5" r="2.4" fill="#4fc0c6"/>
<circle cx="125.7" cy="445.9" r="2.4" fill="#4fc0c6"/>
<circle cx="92.8" cy="450.3" r="2.4" fill="#4fc0c6"/>
<circle cx="97.0" cy="450.9" r="2.4" fill="#4fc0c6"/>
<circle cx="101.5" cy="450.3" r="2.4" fill="#4fc0c6"/>
<circle cx="106.2" cy="449.8" r="2.4" fill="#4fc0c6"/>
<circle cx="110.7" cy="450.4" r="2.4" fill="#4fc0c6"/>
<circle cx="115.7" cy="449.0" r="2.4" fill="#4fc0c6"/>
<circle cx="119.6" cy="449.5" r="2.4" fill="#4fc0c6"/>
<circle cx="123.3" cy="449.1" r="2.4" fill="#4fc0c6"/>
<circle cx="95.2" cy="452.9" r="2.4" fill="#4fc0c6"/>
<circle cx="99.5" cy="454.0" r="2.4" fill="#4fc0c6"/>
<circle cx="104.1" cy="454.1" r="2.4" fill="#4fc0c6"/>
<circle cx="109.2" cy="453.4" r="2.4" fill="#4fc0c6"/>
<circle cx="111.7" cy="453.3" r="2.4" fill="#4fc0c6"/>
<circle cx="115.9" cy="454.0" r="2.4" fill="#4fc0c6"/>
<circle cx="120.3" cy="453.1" r="2.4" fill="#4fc0c6"/>
<circle cx="99.1" cy="456.3" r="2.4" fill="#4fc0c6"/>
<circle cx="103.2" cy="457.2" r="2.4" fill="#4fc0c6"/>
<circle cx="108.3" cy="456.5" r="2.4" fill="#4fc0c6"/>
<circle cx="112.2" cy="456.6" r="2.4" fill="#4fc0c6"/>
<circle cx="117.0" cy="455.9" r="2.4" fill="#4fc0c6"/>
<circle cx="108.8" cy="383.1" r="2.4" fill="#4fc0c6"/>
<circle cx="113.9" cy="390.3" r="2.4" fill="#4fc0c6"/>
<circle cx="117.5" cy="392.1" r="2.4" fill="#4fc0c6"/>
<circle cx="120.4" cy="393.9" r="2.4" fill="#4fc0c6"/>
<circle cx="98.0" cy="395.8" r="2.4" fill="#4fc0c6"/>
<circle cx="100.9" cy="393.2" r="2.4" fill="#4fc0c6"/>
<circle cx="125.5" cy="406.6" r="2.4" fill="#4fc0c6"/>
<circle cx="105.8" cy="460.0" r="2.4" fill="#4fc0c6"/>
<circle cx="111.6" cy="460.0" r="2.4" fill="#4fc0c6"/>
<circle cx="109.1" cy="463.3" r="2.4" fill="#4fc0c6"/>
<circle cx="105.8" cy="466.9" r="2.4" fill="#4fc0c6"/>
<circle cx="111.4" cy="466.9" r="2.4" fill="#4fc0c6"/>
<circle cx="108.9" cy="471.6" r="2.4" fill="#4fc0c6"/>
<circle cx="205.5" cy="393.3" r="2.4" fill="#ef7068"/>
<circle cx="208.9" cy="392.0" r="2.4" fill="#ef7068"/>
<circle cx="213.3" cy="392.5" r="2.4" fill="#ef7068"/>
<circle cx="204.0" cy="396.5" r="2.4" fill="#ef7068"/>
<circle cx="207.6" cy="396.5" r="2.4" fill="#ef7068"/>
<circle cx="211.4" cy="395.5" r="2.4" fill="#ef7068"/>
<circle cx="216.3" cy="395.3" r="2.4" fill="#ef7068"/>
<circle cx="202.5" cy="398.4" r="2.4" fill="#ef7068"/>
<circle cx="205.4" cy="399.1" r="2.4" fill="#ef7068"/>
<circle cx="208.6" cy="398.4" r="2.4" fill="#ef7068"/>
<circle cx="213.3" cy="398.5" r="2.4" fill="#ef7068"/>
<circle cx="218.0" cy="400.2" r="2.4" fill="#ef7068"/>
<circle cx="200.0" cy="402.3" r="2.4" fill="#ef7068"/>
<circle cx="204.8" cy="402.7" r="2.4" fill="#ef7068"/>
<circle cx="209.9" cy="401.6" r="2.4" fill="#ef7068"/>
<circle cx="214.5" cy="402.3" r="2.4" fill="#ef7068"/>
<circle cx="218.1" cy="402.6" r="2.4" fill="#ef7068"/>
<circle cx="197.9" cy="405.4" r="2.4" fill="#ef7068"/>
<circle cx="206.5" cy="406.6" r="2.4" fill="#ef7068"/>
<circle cx="209.2" cy="405.3" r="2.4" fill="#ef7068"/>
<circle cx="213.7" cy="404.8" r="2.4" fill="#ef7068"/>
<circle cx="217.0" cy="405.6" r="2.4" fill="#ef7068"/>
<circle cx="221.7" cy="405.6" r="2.4" fill="#ef7068"/>
<circle cx="194.3" cy="409.4" r="2.4" fill="#ef7068"/>
<circle cx="199.3" cy="408.2" r="2.4" fill="#ef7068"/>
<circle cx="203.2" cy="409.3" r="2.4" fill="#ef7068"/>
<circle cx="207.5" cy="408.1" r="2.4" fill="#ef7068"/>
<circle cx="210.7" cy="408.3" r="2.4" fill="#ef7068"/>
<circle cx="215.9" cy="407.9" r="2.4" fill="#ef7068"/>
<circle cx="219.2" cy="408.3" r="2.4" fill="#ef7068"/>
<circle cx="223.8" cy="409.7" r="2.4" fill="#ef7068"/>
<circle cx="193.5" cy="412.8" r="2.4" fill="#ef7068"/>
<circle cx="198.3" cy="411.6" r="2.4" fill="#ef7068"/>
<circle cx="201.9" cy="412.7" r="2.4" fill="#ef7068"/>
<circle cx="210.0" cy="411.6" r="2.4" fill="#ef7068"/>
<circle cx="212.6" cy="411.0" r="2.4" fill="#ef7068"/>
<circle cx="218.4" cy="412.9" r="2.4" fill="#ef7068"/>
<circle cx="220.6" cy="411.5" r="2.4" fill="#ef7068"/>
<circle cx="226.0" cy="412.6" r="2.4" fill="#ef7068"/>
<circle cx="193.8" cy="414.5" r="2.4" fill="#ef7068"/>
<circle cx="197.5" cy="415.3" r="2.4" fill="#ef7068"/>
<circle cx="202.3" cy="415.8" r="2.4" fill="#ef7068"/>
<circle cx="205.1" cy="415.8" r="2.4" fill="#ef7068"/>
<circle cx="210.3" cy="415.1" r="2.4" fill="#ef7068"/>
<circle cx="213.9" cy="414.5" r="2.4" fill="#ef7068"/>
<circle cx="217.0" cy="415.4" r="2.4" fill="#ef7068"/>
<circle cx="220.8" cy="415.8" r="2.4" fill="#ef7068"/>
<circle cx="225.3" cy="414.5" r="2.4" fill="#ef7068"/>
<circle cx="195.0" cy="419.2" r="2.4" fill="#ef7068"/>
<circle cx="199.4" cy="419.0" r="2.4" fill="#ef7068"/>
<circle cx="203.8" cy="418.0" r="2.4" fill="#ef7068"/>
<circle cx="208.2" cy="418.8" r="2.4" fill="#ef7068"/>
<circle cx="211.3" cy="417.9" r="2.4" fill="#ef7068"/>
<circle cx="215.8" cy="417.2" r="2.4" fill="#ef7068"/>
<circle cx="220.5" cy="418.8" r="2.4" fill="#ef7068"/>
<circle cx="224.6" cy="419.0" r="2.4" fill="#ef7068"/>
<circle cx="191.8" cy="421.9" r="2.4" fill="#ef7068"/>
<circle cx="195.0" cy="421.1" r="2.4" fill="#ef7068"/>
<circle cx="200.4" cy="421.7" r="2.4" fill="#ef7068"/>
<circle cx="203.8" cy="420.6" r="2.4" fill="#ef7068"/>
<circle cx="207.9" cy="421.1" r="2.4" fill="#ef7068"/>
<circle cx="211.3" cy="421.0" r="2.4" fill="#ef7068"/>
<circle cx="214.8" cy="420.5" r="2.4" fill="#ef7068"/>
<circle cx="219.7" cy="421.9" r="2.4" fill="#ef7068"/>
<circle cx="224.1" cy="421.1" r="2.4" fill="#ef7068"/>
<circle cx="226.4" cy="421.3" r="2.4" fill="#ef7068"/>
<circle cx="186.6" cy="423.9" r="2.4" fill="#ef7068"/>
<circle cx="190.5" cy="424.0" r="2.4" fill="#ef7068"/>
<circle cx="195.8" cy="423.5" r="2.4" fill="#ef7068"/>
<circle cx="198.7" cy="423.9" r="2.4" fill="#ef7068"/>
<circle cx="202.8" cy="425.3" r="2.4" fill="#ef7068"/>
<circle cx="207.8" cy="423.8" r="2.4" fill="#ef7068"/>
<circle cx="211.8" cy="425.2" r="2.4" fill="#ef7068"/>
<circle cx="215.7" cy="425.2" r="2.4" fill="#ef7068"/>
<circle cx="219.4" cy="424.6" r="2.4" fill="#ef7068"/>
<circle cx="223.8" cy="424.8" r="2.4" fill="#ef7068"/>
<circle cx="229.0" cy="424.6" r="2.4" fill="#ef7068"/>
<circle cx="232.7" cy="424.2" r="2.4" fill="#ef7068"/>
<circle cx="182.3" cy="427.3" r="2.4" fill="#ef7068"/>
<circle cx="185.9" cy="427.3" r="2.4" fill="#ef7068"/>
<circle cx="189.9" cy="427.7" r="2.4" fill="#ef7068"/>
<circle cx="193.8" cy="428.3" r="2.4" fill="#ef7068"/>
<circle cx="199.7" cy="427.8" r="2.4" fill="#ef7068"/>
<circle cx="203.8" cy="428.4" r="2.4" fill="#ef7068"/>
<circle cx="206.7" cy="427.9" r="2.4" fill="#ef7068"/>
<circle cx="211.8" cy="428.2" r="2.4" fill="#ef7068"/>
<circle cx="216.1" cy="427.2" r="2.4" fill="#ef7068"/>
<circle cx="219.9" cy="427.4" r="2.4" fill="#ef7068"/>
<circle cx="224.9" cy="427.0" r="2.4" fill="#ef7068"/>
<circle cx="228.2" cy="428.6" r="2.4" fill="#ef7068"/>
<circle cx="232.1" cy="428.3" r="2.4" fill="#ef7068"/>
<circle cx="237.8" cy="428.3" r="2.4" fill="#ef7068"/>
<circle cx="179.2" cy="431.3" r="2.4" fill="#ef7068"/>
<circle cx="182.8" cy="431.5" r="2.4" fill="#ef7068"/>
<circle cx="187.0" cy="431.6" r="2.4" fill="#ef7068"/>
<circle cx="194.6" cy="430.1" r="2.4" fill="#ef7068"/>
<circle cx="199.9" cy="430.4" r="2.4" fill="#ef7068"/>
<circle cx="202.9" cy="430.4" r="2.4" fill="#ef7068"/>
<circle cx="207.7" cy="430.0" r="2.4" fill="#ef7068"/>
<circle cx="211.6" cy="430.7" r="2.4" fill="#ef7068"/>
<circle cx="215.8" cy="431.4" r="2.4" fill="#ef7068"/>
<circle cx="219.7" cy="430.7" r="2.4" fill="#ef7068"/>
<circle cx="223.3" cy="430.6" r="2.4" fill="#ef7068"/>
<circle cx="227.9" cy="430.4" r="2.4" fill="#ef7068"/>
<circle cx="231.5" cy="431.5" r="2.4" fill="#ef7068"/>
<circle cx="236.3" cy="431.2" r="2.4" fill="#ef7068"/>
<circle cx="239.4" cy="430.6" r="2.4" fill="#ef7068"/>
<circle cx="179.7" cy="434.5" r="2.4" fill="#ef7068"/>
<circle cx="182.8" cy="433.1" r="2.4" fill="#ef7068"/>
<circle cx="186.8" cy="433.1" r="2.4" fill="#ef7068"/>
<circle cx="194.8" cy="434.3" r="2.4" fill="#ef7068"/>
<circle cx="200.3" cy="434.9" r="2.4" fill="#ef7068"/>
<circle cx="204.3" cy="433.0" r="2.4" fill="#ef7068"/>
<circle cx="208.3" cy="433.9" r="2.4" fill="#ef7068"/>
<circle cx="212.0" cy="433.8" r="2.4" fill="#ef7068"/>
<circle cx="215.2" cy="433.4" r="2.4" fill="#ef7068"/>
<circle cx="219.7" cy="434.9" r="2.4" fill="#ef7068"/>
<circle cx="224.0" cy="434.8" r="2.4" fill="#ef7068"/>
<circle cx="227.1" cy="434.8" r="2.4" fill="#ef7068"/>
<circle cx="231.8" cy="433.0" r="2.4" fill="#ef7068"/>
<circle cx="235.5" cy="434.4" r="2.4" fill="#ef7068"/>
<circle cx="240.1" cy="434.5" r="2.4" fill="#ef7068"/>
<circle cx="179.2" cy="436.9" r="2.4" fill="#ef7068"/>
<circle cx="184.4" cy="437.1" r="2.4" fill="#ef7068"/>
<circle cx="187.7" cy="437.2" r="2.4" fill="#ef7068"/>
<circle cx="191.0" cy="436.9" r="2.4" fill="#ef7068"/>
<circle cx="194.8" cy="437.2" r="2.4" fill="#ef7068"/>
<circle cx="199.9" cy="436.6" r="2.4" fill="#ef7068"/>
<circle cx="202.8" cy="437.6" r="2.4" fill="#ef7068"/>
<circle cx="206.9" cy="437.2" r="2.4" fill="#ef7068"/>
<circle cx="211.6" cy="436.9" r="2.4" fill="#ef7068"/>
<circle cx="215.2" cy="438.1" r="2.4" fill="#ef7068"/>
<circle cx="219.5" cy="437.0" r="2.4" fill="#ef7068"/>
<circle cx="223.3" cy="436.5" r="2.4" fill="#ef7068"/>
<circle cx="227.3" cy="436.8" r="2.4" fill="#ef7068"/>
<circle cx="231.1" cy="436.8" r="2.4" fill="#ef7068"/>
<circle cx="235.3" cy="437.1" r="2.4" fill="#ef7068"/>
<circle cx="239.8" cy="436.2" r="2.4" fill="#ef7068"/>
<circle cx="180.9" cy="439.5" r="2.4" fill="#ef7068"/>
<circle cx="185.3" cy="441.2" r="2.4" fill="#ef7068"/>
<circle cx="188.3" cy="440.1" r="2.4" fill="#ef7068"/>
<circle cx="193.6" cy="439.7" r="2.4" fill="#ef7068"/>
<circle cx="197.4" cy="440.5" r="2.4" fill="#ef7068"/>
<circle cx="201.2" cy="441.2" r="2.4" fill="#ef7068"/>
<circle cx="206.2" cy="440.0" r="2.4" fill="#ef7068"/>
<circle cx="209.2" cy="440.7" r="2.4" fill="#ef7068"/>
<circle cx="213.2" cy="440.3" r="2.4" fill="#ef7068"/>
<circle cx="217.8" cy="440.6" r="2.4" fill="#ef7068"/>
<circle cx="222.3" cy="440.0" r="2.4" fill="#ef7068"/>
<circle cx="225.1" cy="441.0" r="2.4" fill="#ef7068"/>
<circle cx="229.9" cy="441.2" r="2.4" fill="#ef7068"/>
<circle cx="233.6" cy="440.9" r="2.4" fill="#ef7068"/>
<circle cx="238.2" cy="439.9" r="2.4" fill="#ef7068"/>
<circle cx="181.8" cy="443.2" r="2.4" fill="#ef7068"/>
<circle cx="194.5" cy="442.7" r="2.4" fill="#ef7068"/>
<circle cx="199.6" cy="443.2" r="2.4" fill="#ef7068"/>
<circle cx="203.4" cy="444.3" r="2.4" fill="#ef7068"/>
<circle cx="206.9" cy="444.1" r="2.4" fill="#ef7068"/>
<circle cx="212.4" cy="443.5" r="2.4" fill="#ef7068"/>
<circle cx="215.2" cy="444.2" r="2.4" fill="#ef7068"/>
<circle cx="220.1" cy="444.0" r="2.4" fill="#ef7068"/>
<circle cx="224.3" cy="444.2" r="2.4" fill="#ef7068"/>
<circle cx="228.6" cy="442.8" r="2.4" fill="#ef7068"/>
<circle cx="233.2" cy="443.7" r="2.4" fill="#ef7068"/>
<circle cx="236.7" cy="442.4" r="2.4" fill="#ef7068"/>
<circle cx="184.6" cy="446.3" r="2.4" fill="#ef7068"/>
<circle cx="188.0" cy="447.4" r="2.4" fill="#ef7068"/>
<circle cx="193.0" cy="447.2" r="2.4" fill="#ef7068"/>
<circle cx="197.1" cy="446.6" r="2.4" fill="#ef7068"/>
<circle cx="201.0" cy="447.4" r="2.4" fill="#ef7068"/>
<circle cx="209.5" cy="446.8" r="2.4" fill="#ef7068"/>
<circle cx="213.1" cy="446.4" r="2.4" fill="#ef7068"/>
<circle cx="218.2" cy="446.6" r="2.4" fill="#ef7068"/>
<circle cx="222.3" cy="447.3" r="2.4" fill="#ef7068"/>
<circle cx="225.9" cy="446.1" r="2.4" fill="#ef7068"/>
<circle cx="229.6" cy="445.6" r="2.4" fill="#ef7068"/>
<circle cx="235.3" cy="445.8" r="2.4" fill="#ef7068"/>
<circle cx="191.1" cy="449.0" r="2.4" fill="#ef7068"/>
<circle cx="195.1" cy="449.1" r="2.4" fill="#ef7068"/>
<circle cx="199.8" cy="450.7" r="2.4" fill="#ef7068"/>
<circle cx="203.1" cy="450.0" r="2.4" fill="#ef7068"/>
<circle cx="207.6" cy="450.1" r="2.4" fill="#ef7068"/>
<circle cx="212.1" cy="450.2" r="2.4" fill="#ef7068"/>
<circle cx="216.2" cy="449.6" r="2.4" fill="#ef7068"/>
<circle cx="219.0" cy="449.9" r="2.4" fill="#ef7068"/>
<circle cx="223.2" cy="449.7" r="2.4" fill="#ef7068"/>
<circle cx="227.9" cy="449.4" r="2.4" fill="#ef7068"/>
<circle cx="192.6" cy="452.9" r="2.4" fill="#ef7068"/>
<circle cx="197.6" cy="453.7" r="2.4" fill="#ef7068"/>
<circle cx="201.6" cy="452.5" r="2.4" fill="#ef7068"/>
<circle cx="204.4" cy="452.5" r="2.4" fill="#ef7068"/>
<circle cx="209.8" cy="453.3" r="2.4" fill="#ef7068"/>
<circle cx="213.1" cy="453.8" r="2.4" fill="#ef7068"/>
<circle cx="217.4" cy="452.7" r="2.4" fill="#ef7068"/>
<circle cx="222.6" cy="453.8" r="2.4" fill="#ef7068"/>
<circle cx="227.1" cy="452.7" r="2.4" fill="#ef7068"/>
<circle cx="198.5" cy="455.6" r="2.4" fill="#ef7068"/>
<circle cx="206.3" cy="456.3" r="2.4" fill="#ef7068"/>
<circle cx="209.0" cy="455.4" r="2.4" fill="#ef7068"/>
<circle cx="212.7" cy="456.0" r="2.4" fill="#ef7068"/>
<circle cx="218.1" cy="456.0" r="2.4" fill="#ef7068"/>
<circle cx="221.6" cy="455.9" r="2.4" fill="#ef7068"/>
<circle cx="201.6" cy="459.6" r="2.4" fill="#ef7068"/>
<circle cx="205.9" cy="459.5" r="2.4" fill="#ef7068"/>
<circle cx="208.9" cy="459.1" r="2.4" fill="#ef7068"/>
<circle cx="213.1" cy="458.6" r="2.4" fill="#ef7068"/>
<circle cx="217.7" cy="458.5" r="2.4" fill="#ef7068"/>
<circle cx="206.3" cy="389.2" r="2.4" fill="#ef7068"/>
<circle cx="210.3" cy="389.9" r="2.4" fill="#ef7068"/>
<circle cx="212.5" cy="391.0" r="2.4" fill="#ef7068"/>
<circle cx="191.5" cy="401.1" r="2.4" fill="#ef7068"/>
<circle cx="194.4" cy="402.5" r="2.4" fill="#ef7068"/>
<circle cx="197.3" cy="400.7" r="2.4" fill="#ef7068"/>
<circle cx="224.8" cy="404.0" r="2.4" fill="#ef7068"/>
<circle cx="227.0" cy="404.3" r="2.4" fill="#ef7068"/>
<circle cx="209.1" cy="470.6" r="2.4" fill="#ef7068"/>
<circle cx="209.1" cy="480.4" r="2.4" fill="#ef7068"/>
<ellipse cx="113.53" cy="121.68" rx="62.32" ry="48.67" transform="rotate(-53.80 113.53 121.68)" fill="none" stroke="#40c3c8" stroke-width="1.35"/>
<ellipse cx="200.32" cy="141.82" rx="14.40" ry="109.36" transform="rotate(24.16 200.32 141.82)" fill="none" stroke="#f6857c" stroke-width="1.35"/>
<ellipse cx="367.99" cy="127.09" rx="73.70" ry="40.36" transform="rotate(-67.55 367.99 127.09)" fill="none" stroke="#f6857c" stroke-width="1.35"/>
<ellipse cx="436.75" cy="155.41" rx="27.65" ry="99.25" transform="rotate(27.09 436.75 155.41)" fill="none" stroke="#40c3c8" stroke-width="1.35"/>
<ellipse cx="638.32" cy="147.00" rx="52.70" ry="73.66" transform="rotate(-35.65 638.32 147.00)" fill="none" stroke="#40c3c8" stroke-width="1.35"/>
<ellipse cx="693.73" cy="116.48" rx="78.69" ry="12.80" transform="rotate(70.20 693.73 116.48)" fill="none" stroke="#f6857c" stroke-width="1.35"/>
<rect x="50.5" y="32.5" width="205.7" height="219.5" fill="none" stroke="#a6a6a6" stroke-width="1.4"/>
<line x1="59.6" y1="252" x2="59.6" y2="255.5" stroke="#5a5a5a" stroke-width="1.4"/>
<text x="59.6" y="267.0" font-size="10.8" fill="#858585" text-anchor="middle" stroke="#858585" stroke-width="0.3">-0.6</text>
<line x1="109.8" y1="252" x2="109.8" y2="255.5" stroke="#5a5a5a" stroke-width="1.4"/>
<text x="109.8" y="267.0" font-size="10.8" fill="#858585" text-anchor="middle" stroke="#858585" stroke-width="0.3">-0.3</text>
<line x1="160.0" y1="252" x2="160.0" y2="255.5" stroke="#5a5a5a" stroke-width="1.4"/>
<text x="160.0" y="267.0" font-size="10.8" fill="#858585" text-anchor="middle" stroke="#858585" stroke-width="0.3">0.0</text>
<line x1="210.2" y1="252" x2="210.2" y2="255.5" stroke="#5a5a5a" stroke-width="1.4"/>
<text x="210.2" y="267.0" font-size="10.8" fill="#858585" text-anchor="middle" stroke="#858585" stroke-width="0.3">0.3</text>
<line x1="47.0" y1="76.0" x2="50.5" y2="76.0" stroke="#5a5a5a" stroke-width="1.4"/>
<text x="44.5" y="79.9" font-size="10.8" fill="#858585" text-anchor="end" stroke="#858585" stroke-width="0.3">0.3</text>
<line x1="47.0" y1="134.2" x2="50.5" y2="134.2" stroke="#5a5a5a" stroke-width="1.4"/>
<text x="44.5" y="138.1" font-size="10.8" fill="#858585" text-anchor="end" stroke="#858585" stroke-width="0.3">0.0</text>
<line x1="47.0" y1="192.4" x2="50.5" y2="192.4" stroke="#5a5a5a" stroke-width="1.4"/>
<text x="44.5" y="196.3" font-size="10.8" fill="#858585" text-anchor="end" stroke="#858585" stroke-width="0.3">-0.3</text>
<line x1="47.0" y1="250.6" x2="50.5" y2="250.6" stroke="#5a5a5a" stroke-width="1.4"/>
<text x="44.5" y="254.5" font-size="10.8" fill="#858585" text-anchor="end" stroke="#858585" stroke-width="0.3">-0.6</text>
<text x="106.3" y="283.2" font-size="13" fill="#1a1a1a" text-anchor="start" stroke="#1a1a1a" stroke-width="0.2">Axis.1</text>
<text x="154.3" y="283.2" font-size="13" fill="#1a1a1a" text-anchor="start" stroke="#1a1a1a" stroke-width="0.2" letter-spacing="0.12">[31.1%]</text>
<text x="0" y="0" font-size="13" fill="#1a1a1a" stroke="#1a1a1a" stroke-width="0.2" xml:space="preserve" transform="translate(19.3,183.8) rotate(-90)">Axis.2   [16%]</text>
<rect x="312.9" y="32.3" width="184.0" height="237.7" fill="none" stroke="#a6a6a6" stroke-width="1.4"/>
<line x1="350.6" y1="270" x2="350.6" y2="273.5" stroke="#5a5a5a" stroke-width="1.4"/>
<text x="350.6" y="282.9" font-size="9.6" fill="#8c8c8c" text-anchor="middle" stroke="#8c8c8c" stroke-width="0.3">-0.2</text>
<line x1="402.6" y1="270" x2="402.6" y2="273.5" stroke="#5a5a5a" stroke-width="1.4"/>
<text x="402.6" y="282.9" font-size="9.6" fill="#8c8c8c" text-anchor="middle" stroke="#8c8c8c" stroke-width="0.3">0.0</text>
<line x1="454.7" y1="270" x2="454.7" y2="273.5" stroke="#5a5a5a" stroke-width="1.4"/>
<text x="454.7" y="282.9" font-size="9.6" fill="#8c8c8c" text-anchor="middle" stroke="#8c8c8c" stroke-width="0.3">0.2</text>
<line x1="309.4" y1="71.5" x2="312.9" y2="71.5" stroke="#5a5a5a" stroke-width="1.4"/>
<text x="306.9" y="75.0" font-size="9.6" fill="#8c8c8c" text-anchor="end" stroke="#8c8c8c" stroke-width="0.3">0.2</text>
<line x1="309.4" y1="140.4" x2="312.9" y2="140.4" stroke="#5a5a5a" stroke-width="1.4"/>
<text x="306.9" y="143.9" font-size="9.6" fill="#8c8c8c" text-anchor="end" stroke="#8c8c8c" stroke-width="0.3">0.0</text>
<line x1="309.4" y1="209.3" x2="312.9" y2="209.3" stroke="#5a5a5a" stroke-width="1.4"/>
<text x="306.9" y="212.8" font-size="9.6" fill="#8c8c8c" text-anchor="end" stroke="#8c8c8c" stroke-width="0.3">-0.2</text>
<text x="362.7" y="296.5" font-size="12" fill="#1a1a1a" text-anchor="start" stroke="#1a1a1a" stroke-width="0.2">Axis.1</text>
<text x="405.0" y="296.5" font-size="12" fill="#1a1a1a" text-anchor="start" stroke="#1a1a1a" stroke-width="0.2" letter-spacing="0">[10.7%]</text>
<text x="0" y="0" font-size="12" fill="#1a1a1a" stroke="#1a1a1a" stroke-width="0.2" xml:space="preserve" transform="translate(286,189.5) rotate(-90)">Axis.2   [6.2%]</text>
<rect x="570" y="32.5" width="178.5" height="237.3" fill="none" stroke="#a6a6a6" stroke-width="1.4"/>
<line x1="588.4" y1="269.8" x2="588.4" y2="273.3" stroke="#5a5a5a" stroke-width="1.4"/>
<text x="588.4" y="282.7" font-size="9.6" fill="#8c8c8c" text-anchor="middle" stroke="#8c8c8c" stroke-width="0.3">-0.10</text>
<line x1="628.7" y1="269.8" x2="628.7" y2="273.3" stroke="#5a5a5a" stroke-width="1.4"/>
<text x="628.7" y="282.7" font-size="9.6" fill="#8c8c8c" text-anchor="middle" stroke="#8c8c8c" stroke-width="0.3">-0.05</text>
<line x1="669.1" y1="269.8" x2="669.1" y2="273.3" stroke="#5a5a5a" stroke-width="1.4"/>
<text x="669.1" y="282.7" font-size="9.6" fill="#8c8c8c" text-anchor="middle" stroke="#8c8c8c" stroke-width="0.3">0.00</text>
<line x1="709.4" y1="269.8" x2="709.4" y2="273.3" stroke="#5a5a5a" stroke-width="1.4"/>
<text x="709.4" y="282.7" font-size="9.6" fill="#8c8c8c" text-anchor="middle" stroke="#8c8c8c" stroke-width="0.3">0.05</text>
<line x1="566.5" y1="82.6" x2="570" y2="82.6" stroke="#5a5a5a" stroke-width="1.4"/>
<text x="564.0" y="86.1" font-size="9.6" fill="#8c8c8c" text-anchor="end" stroke="#8c8c8c" stroke-width="0.3">0.05</text>
<line x1="566.5" y1="136.3" x2="570" y2="136.3" stroke="#5a5a5a" stroke-width="1.4"/>
<text x="564.0" y="139.8" font-size="9.6" fill="#8c8c8c" text-anchor="end" stroke="#8c8c8c" stroke-width="0.3">0.00</text>
<line x1="566.5" y1="190.1" x2="570" y2="190.1" stroke="#5a5a5a" stroke-width="1.4"/>
<text x="564.0" y="193.5" font-size="9.6" fill="#8c8c8c" text-anchor="end" stroke="#8c8c8c" stroke-width="0.3">-0.05</text>
<line x1="566.5" y1="243.8" x2="570" y2="243.8" stroke="#5a5a5a" stroke-width="1.4"/>
<text x="564.0" y="247.3" font-size="9.6" fill="#8c8c8c" text-anchor="end" stroke="#8c8c8c" stroke-width="0.3">-0.10</text>
<text x="617.3" y="296.0" font-size="12" fill="#1a1a1a" text-anchor="start" stroke="#1a1a1a" stroke-width="0.2">Axis.1</text>
<text x="659.8" y="296.0" font-size="12" fill="#1a1a1a" text-anchor="start" stroke="#1a1a1a" stroke-width="0.2" letter-spacing="0">[51.1%]</text>
<text x="0" y="0" font-size="12" fill="#1a1a1a" stroke="#1a1a1a" stroke-width="0.2" xml:space="preserve" transform="translate(537,193.8) rotate(-90)">Axis.2   [31.2%]</text>
<text x="10.3" y="11.5" font-size="14.8" fill="#1a1a1a" text-anchor="start" stroke="#1a1a1a" stroke-width="0.25">A.</text>
<text x="56.0" y="11.5" font-size="14.6" fill="#1a1a1a" text-anchor="start" stroke="#1a1a1a" stroke-width="0.25">Bray Curtis</text>
<text x="271.0" y="11.3" font-size="14.8" fill="#1a1a1a" text-anchor="start" stroke="#1a1a1a" stroke-width="0.25">B.</text>
<text x="316.3" y="13.6" font-size="14.8" fill="#1a1a1a" text-anchor="start" stroke="#1a1a1a" stroke-width="0.25">Unweighted UniFraction</text>
<text x="536.7" y="12.7" font-size="14.8" fill="#1a1a1a" text-anchor="start" stroke="#1a1a1a" stroke-width="0.25">C.</text>
<text x="569.3" y="12.7" font-size="14.8" fill="#1a1a1a" text-anchor="start" stroke="#1a1a1a" stroke-width="0.25">Weighted UniFraction</text>
<text x="11.0" y="328.0" font-size="14.8" fill="#1a1a1a" text-anchor="start" stroke="#1a1a1a" stroke-width="0.25">D.</text>
<text x="40.7" y="328.0" font-size="14.8" fill="#1a1a1a" text-anchor="start" stroke="#1a1a1a" stroke-width="0.25">Shannon Diversity Index</text>
<line x1="42.3" y1="354.2" x2="42.3" y2="531.2" stroke="#111" stroke-width="1.6"/>
<line x1="36.8" y1="530.5" x2="276" y2="530.5" stroke="#111" stroke-width="1.6"/>
<line x1="36.8" y1="530.6" x2="42.3" y2="530.6" stroke="#111" stroke-width="1.6"/>
<text x="31.2" y="535.3" font-size="12" fill="#1a1a1a" text-anchor="middle" stroke="#1a1a1a" stroke-width="0.25">0</text>
<line x1="36.8" y1="495.6" x2="42.3" y2="495.6" stroke="#111" stroke-width="1.6"/>
<text x="31.2" y="500.3" font-size="12" fill="#1a1a1a" text-anchor="middle" stroke="#1a1a1a" stroke-width="0.25">1</text>
<line x1="36.8" y1="460.5" x2="42.3" y2="460.5" stroke="#111" stroke-width="1.6"/>
<text x="31.2" y="465.2" font-size="12" fill="#1a1a1a" text-anchor="middle" stroke="#1a1a1a" stroke-width="0.25">2</text>
<line x1="36.8" y1="425.5" x2="42.3" y2="425.5" stroke="#111" stroke-width="1.6"/>
<text x="31.2" y="430.2" font-size="12" fill="#1a1a1a" text-anchor="middle" stroke="#1a1a1a" stroke-width="0.25">3</text>
<line x1="36.8" y1="390.4" x2="42.3" y2="390.4" stroke="#111" stroke-width="1.6"/>
<text x="31.2" y="395.1" font-size="12" fill="#1a1a1a" text-anchor="middle" stroke="#1a1a1a" stroke-width="0.25">4</text>
<line x1="36.8" y1="355.4" x2="42.3" y2="355.4" stroke="#111" stroke-width="1.6"/>
<text x="31.2" y="360.1" font-size="12" fill="#1a1a1a" text-anchor="middle" stroke="#1a1a1a" stroke-width="0.25">5</text>
<line x1="108.8" y1="530.5" x2="108.8" y2="536" stroke="#111" stroke-width="1.6"/>
<line x1="209.2" y1="530.5" x2="209.2" y2="536" stroke="#111" stroke-width="1.6"/>
<text x="108.4" y="549.0" font-size="12.7" fill="#1a1a1a" text-anchor="middle" stroke="#1a1a1a" stroke-width="0.2">American</text>
<text x="209.0" y="549.0" font-size="12.7" fill="#1a1a1a" text-anchor="middle" stroke="#1a1a1a" stroke-width="0.2">Ketogenic</text>
<text x="0" y="0" font-size="12.6" fill="#1a1a1a" stroke="#1a1a1a" stroke-width="0.2" text-anchor="middle" transform="translate(12,441.5) rotate(-90)">Shannon Diversity Index</text>
<rect x="474.3" y="406.9" width="135.6" height="61.8" fill="none" stroke="#444" stroke-width="1"/>
<circle cx="500.3" cy="420.2" r="5.8" fill="#5cc1c6"/>
<circle cx="500.3" cy="452.5" r="5.8" fill="#ec766c"/>
<text x="516.5" y="425.9" font-size="14.6" fill="#111" text-anchor="start" stroke="#111" stroke-width="0.2">American</text>
<text x="516.5" y="458.1" font-size="14.6" fill="#111" text-anchor="start" stroke="#111" stroke-width="0.2">Ketogenic</text>
</svg>
</body></html>
